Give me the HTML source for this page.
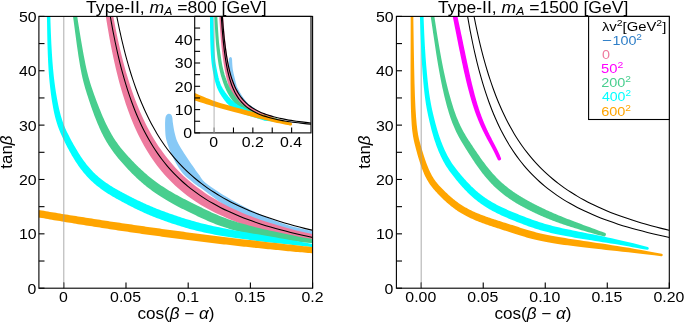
<!DOCTYPE html>
<html><head><meta charset="utf-8"><style>
html,body{margin:0;padding:0;background:#fff;}
svg{display:block;font-family:"Liberation Sans", sans-serif;will-change:transform;}
</style></head><body>
<svg xmlns="http://www.w3.org/2000/svg" width="685" height="323" viewBox="0 0 685 323" font-family='"Liberation Sans", sans-serif'><defs><clipPath id="cl"><rect x="38.9" y="16.4" width="273.7" height="271.8"/></clipPath>
<clipPath id="cr"><rect x="396.4" y="16.4" width="272.9" height="271.8"/></clipPath>
<clipPath id="ci"><rect x="194.7" y="16.4" width="116.3" height="116.5"/></clipPath></defs>
<g clip-path="url(#cl)">
<path d="M318 238.5C316.92 238.13 317.83 237.92 311.5 236.3C305.17 234.68 291.92 232.32 280 228.8C268.08 225.28 253.3 222.07 240 215.2C226.7 208.33 208.07 193.1 200.2 187.6C192.33 182.1 195.68 184.55 192.8 182.2C189.92 179.85 185.95 177.12 182.9 173.5C179.85 169.88 176.73 164.5 174.5 160.5C172.27 156.5 170.88 152.98 169.5 149.5C168.12 146.02 166.92 142.8 166.2 139.6C165.48 136.4 165.37 133.57 165.2 130.3C165.03 127.03 165.03 122.45 165.2 120C165.37 117.55 165.63 116.65 166.2 115.6C166.77 114.55 167.8 113.87 168.6 113.7C169.4 113.53 170.38 113.97 171 114.6C171.62 115.23 171.98 116.1 172.3 117.5C172.62 118.9 172.53 120.55 172.9 123C173.27 125.45 173.77 129.12 174.5 132.2C175.23 135.28 175.9 138.32 177.3 141.5C178.7 144.68 180.32 147.2 182.9 151.3C185.48 155.4 190.12 162.18 192.8 166.1C195.48 170.02 196.47 171.7 199 174.8C201.53 177.9 201.17 179.75 208 184.7C214.83 189.65 228 198.2 240 204.5C252 210.8 268.08 218.12 280 222.5C291.92 226.88 305.17 229.22 311.5 230.8C317.83 232.38 316.92 231.8 318 232Z" fill="#87C9F6" />
<path d="M107.33 -20.88C107.67 -18.51 108.71 -11.29 109.42 -6.66C110.14 -2.04 110.87 2.48 111.62 6.89C112.37 11.31 113.14 15.61 113.93 19.83C114.72 24.04 115.52 28.15 116.35 32.17C117.17 36.18 118.01 40.1 118.88 43.94C119.74 47.77 120.63 51.51 121.53 55.17C122.44 58.83 123.37 62.39 124.32 65.88C125.27 69.37 126.24 72.78 127.23 76.1C128.23 79.43 129.25 82.68 130.29 85.86C131.34 89.03 132.4 92.13 133.5 95.16C134.59 98.19 135.71 101.14 136.86 104.03C138.01 106.93 139.18 109.74 140.38 112.5C141.58 115.26 142.81 117.95 144.07 120.58C145.33 123.21 146.62 125.78 147.94 128.29C149.26 130.8 150.61 133.25 152 135.64C153.38 138.03 154.8 140.37 156.25 142.65C157.7 144.94 159.18 147.17 160.7 149.35C162.23 151.53 163.78 153.65 165.38 155.73C166.97 157.81 168.6 159.84 170.27 161.82C171.94 163.8 173.65 165.74 175.4 167.63C177.16 169.52 178.95 171.37 180.78 173.17C182.62 174.98 184.5 176.74 186.42 178.46C188.35 180.19 190.31 181.87 192.33 183.51C194.35 185.15 196.41 186.75 198.53 188.32C200.64 189.89 202.8 191.42 205.02 192.91C207.24 194.41 209.5 195.87 211.83 197.3C214.15 198.72 216.53 200.11 218.96 201.48C221.4 202.84 223.89 204.16 226.44 205.46C229 206.76 231.61 208.03 234.28 209.27C236.96 210.51 239.69 211.71 242.5 212.9C245.3 214.08 248.17 215.23 251.11 216.36C254.05 217.49 257.06 218.59 260.14 219.66C263.22 220.74 266.37 221.79 269.6 222.81C272.83 223.84 276.14 224.84 279.52 225.82C282.91 226.8 286.37 227.75 289.92 228.69C293.47 229.62 297.1 230.53 300.82 231.42C304.54 232.31 308.34 233.18 312.24 234.03C316.14 234.88 320.13 235.71 324.22 236.52C328.3 237.34 332.48 238.13 336.77 238.9C341.05 239.67 347.73 240.79 349.92 241.17L349.92 248.26C347.56 247.91 340.33 246.88 335.72 246.17C331.1 245.46 326.6 244.73 322.22 243.97C317.83 243.22 313.56 242.45 309.39 241.66C305.21 240.87 301.16 240.07 297.19 239.23C293.23 238.4 289.37 237.55 285.6 236.68C281.84 235.8 278.17 234.9 274.59 233.98C271.01 233.06 267.53 232.12 264.12 231.15C260.72 230.18 257.41 229.19 254.18 228.17C250.94 227.15 247.8 226.11 244.73 225.04C241.65 223.96 238.66 222.86 235.74 221.74C232.82 220.61 229.98 219.45 227.2 218.26C224.43 217.08 221.73 215.86 219.09 214.61C216.45 213.36 213.89 212.08 211.38 210.77C208.87 209.45 206.43 208.1 204.05 206.72C201.67 205.34 199.35 203.92 197.09 202.46C194.82 201.01 192.62 199.52 190.47 197.98C188.32 196.45 186.23 194.88 184.18 193.27C182.14 191.66 180.15 190.01 178.2 188.31C176.26 186.62 174.37 184.88 172.52 183.09C170.68 181.31 168.88 179.48 167.12 177.6C165.37 175.73 163.66 173.8 161.99 171.83C160.33 169.85 158.7 167.83 157.12 165.75C155.53 163.67 153.99 161.54 152.48 159.35C150.98 157.16 149.51 154.92 148.08 152.62C146.65 150.32 145.25 147.96 143.89 145.54C142.53 143.11 141.21 140.63 139.92 138.08C138.62 135.53 137.37 132.92 136.14 130.24C134.91 127.56 133.71 124.81 132.54 121.99C131.38 119.17 130.24 116.27 129.13 113.3C128.02 110.33 126.94 107.29 125.89 104.17C124.83 101.04 123.81 97.84 122.8 94.55C121.8 91.27 120.83 87.9 119.87 84.44C118.92 80.98 117.99 77.43 117.09 73.79C116.18 70.15 115.3 66.42 114.44 62.59C113.58 58.76 112.74 54.84 111.93 50.81C111.11 46.78 110.31 42.65 109.54 38.4C108.76 34.16 108 29.82 107.26 25.36C106.53 20.89 105.81 16.32 105.11 11.62C104.4 6.93 103.72 2.12 103.05 -2.82C102.39 -7.77 101.43 -15.49 101.1 -18.03Z" fill="#EE7A9E" />
<path d="M76.8 13.35 L77.67 19.28 L78.77 26.16 L79.83 32.69 L80.85 38.89 L81.85 44.75 L82.81 50.29 L83.76 55.49 L84.7 60.37 L85.62 64.92 L86.55 69.16 L87.48 73.07 L88.42 76.71 L89.37 80.09 L90.31 83.26 L91.27 86.25 L92.22 89.08 L93.17 91.8 L94.11 94.43 L95.04 96.99 L95.96 99.47 L96.87 101.89 L97.76 104.24 L98.64 106.51 L99.51 108.72 L100.37 110.87 L101.23 112.95 L102.07 114.97 L102.91 116.93 L103.75 118.83 L104.58 120.67 L105.41 122.46 L106.23 124.19 L107.05 125.87 L107.87 127.5 L108.69 129.08 L109.5 130.61 L110.32 132.1 L111.14 133.55 L111.96 134.96 L112.77 136.32 L113.59 137.65 L114.42 138.94 L115.24 140.2 L116.07 141.42 L116.9 142.62 L117.73 143.78 L118.56 144.92 L119.4 146.04 L120.25 147.13 L121.09 148.2 L121.95 149.26 L122.8 150.29 L123.66 151.31 L124.52 152.31 L125.39 153.3 L126.26 154.28 L127.14 155.25 L128.01 156.21 L128.89 157.17 L129.78 158.12 L130.66 159.06 L131.54 159.99 L132.42 160.92 L133.3 161.83 L134.19 162.74 L135.07 163.64 L135.95 164.53 L136.84 165.41 L137.73 166.29 L138.62 167.15 L139.51 168.01 L140.4 168.86 L141.3 169.71 L142.21 170.54 L143.11 171.37 L144.03 172.19 L144.94 173 L145.87 173.81 L146.8 174.61 L147.73 175.4 L148.67 176.18 L149.62 176.96 L150.58 177.74 L151.55 178.5 L152.52 179.26 L153.5 180.02 L154.5 180.77 L155.5 181.52 L156.51 182.26 L157.53 182.99 L158.57 183.73 L159.61 184.45 L160.67 185.18 L161.74 185.9 L162.82 186.62 L163.92 187.33 L165.03 188.05 L166.15 188.76 L167.29 189.47 L168.44 190.17 L169.61 190.88 L170.79 191.58 L171.99 192.29 L173.21 192.99 L174.44 193.69 L175.69 194.4 L176.96 195.1 L178.25 195.81 L179.55 196.52 L180.87 197.23 L182.21 197.94 L183.57 198.65 L184.95 199.37 L186.35 200.09 L187.77 200.82 L189.21 201.55 L190.67 202.28 L192.15 203.02 L193.65 203.76 L195.17 204.52 L196.72 205.27 L198.28 206.04 L199.87 206.81 L201.48 207.59 L203.11 208.38 L204.77 209.18 L206.44 209.98 L208.14 210.79 L209.85 211.6 L211.6 212.41 L213.39 213.22 L215.22 214.03 L217.1 214.84 L219.04 215.65 L221.04 216.46 L223.11 217.27 L225.25 218.08 L227.47 218.89 L229.78 219.7 L232.18 220.51 L234.68 221.32 L237.28 222.14 L240 222.96 L242.83 223.78 L245.78 224.61 L248.86 225.44 L252.08 226.28 L255.44 227.14 L258.95 228 L262.62 228.88 L266.46 229.77 L270.48 230.68 L274.68 231.61 L279.07 232.57 L283.66 233.55 L288.49 234.55 L293.6 235.58 L299.04 236.63 L304.86 237.7 L311.11 238.81 L319.04 239.88 L318.48 244.04 L318.48 244.04 L310.55 242.97 L304.21 242.39 L298.28 241.76 L292.72 241.11 L287.49 240.44 L282.56 239.75 L277.87 239.05 L273.4 238.35 L269.12 237.65 L265.01 236.95 L261.08 236.25 L257.31 235.54 L253.7 234.82 L250.24 234.1 L246.92 233.38 L243.73 232.65 L240.67 231.91 L237.72 231.16 L234.89 230.41 L232.17 229.66 L229.54 228.89 L227.01 228.12 L224.58 227.34 L222.23 226.55 L219.96 225.75 L217.77 224.95 L215.65 224.15 L213.6 223.34 L211.61 222.52 L209.68 221.71 L207.8 220.9 L205.97 220.09 L204.19 219.28 L202.45 218.48 L200.74 217.69 L199.06 216.91 L197.41 216.13 L195.78 215.36 L194.16 214.6 L192.57 213.84 L191 213.09 L189.45 212.33 L187.92 211.59 L186.41 210.84 L184.91 210.1 L183.44 209.37 L181.99 208.63 L180.55 207.89 L179.13 207.16 L177.73 206.43 L176.35 205.7 L174.99 204.96 L173.64 204.23 L172.31 203.5 L171 202.77 L169.7 202.03 L168.42 201.3 L167.15 200.56 L165.9 199.82 L164.67 199.07 L163.45 198.33 L162.24 197.58 L161.05 196.83 L159.87 196.07 L158.71 195.31 L157.56 194.55 L156.42 193.78 L155.3 193.01 L154.18 192.23 L153.08 191.45 L152 190.66 L150.92 189.87 L149.85 189.07 L148.8 188.27 L147.76 187.46 L146.72 186.64 L145.7 185.82 L144.68 184.99 L143.68 184.16 L142.68 183.32 L141.7 182.47 L140.72 181.62 L139.75 180.76 L138.79 179.89 L137.83 179.02 L136.88 178.14 L135.94 177.25 L135.01 176.35 L134.08 175.45 L133.15 174.54 L132.23 173.63 L131.32 172.7 L130.41 171.77 L129.51 170.84 L128.61 169.89 L127.71 168.94 L126.81 167.98 L125.92 167.01 L125.03 166.04 L124.14 165.06 L123.26 164.07 L122.37 163.07 L121.48 162.07 L120.59 161.05 L119.7 160.01 L118.81 158.96 L117.92 157.9 L117.03 156.81 L116.15 155.71 L115.26 154.58 L114.38 153.44 L113.5 152.26 L112.62 151.07 L111.75 149.85 L110.88 148.6 L110.02 147.32 L109.16 146.01 L108.31 144.67 L107.46 143.29 L106.62 141.88 L105.78 140.44 L104.95 138.96 L104.12 137.44 L103.3 135.88 L102.48 134.28 L101.66 132.63 L100.85 130.94 L100.04 129.21 L99.24 127.43 L98.43 125.6 L97.63 123.71 L96.83 121.78 L96.03 119.79 L95.23 117.75 L94.42 115.65 L93.61 113.49 L92.8 111.27 L91.99 108.99 L91.16 106.64 L90.34 104.23 L89.5 101.76 L88.65 99.21 L87.8 96.59 L86.93 93.89 L86.04 91.08 L85.16 88.13 L84.28 85.02 L83.41 81.71 L82.55 78.18 L81.71 74.4 L80.88 70.35 L80.08 66 L79.29 61.35 L78.51 56.38 L77.72 51.11 L76.92 45.52 L76.11 39.61 L75.28 33.37 L74.41 26.8 L73.5 19.89 L72.64 13.96Z" fill="#48CE8E" />
<path d="M50.33 15.64 L50.48 21.64 L50.91 33.56 L51.39 44.19 L51.92 53.66 L52.49 62.08 L53.12 69.58 L53.79 76.27 L54.51 82.27 L55.25 87.7 L56.01 92.69 L56.79 97.31 L57.57 101.58 L58.36 105.54 L59.17 109.18 L60 112.55 L60.84 115.66 L61.69 118.54 L62.56 121.2 L63.44 123.67 L64.34 125.98 L65.24 128.14 L66.16 130.19 L67.08 132.14 L68.02 134.02 L68.95 135.86 L69.89 137.66 L70.81 139.41 L71.73 141.13 L72.64 142.81 L73.54 144.44 L74.44 146.04 L75.33 147.6 L76.22 149.12 L77.11 150.6 L77.99 152.04 L78.86 153.45 L79.74 154.82 L80.61 156.16 L81.49 157.47 L82.36 158.74 L83.23 159.98 L84.11 161.18 L84.98 162.36 L85.86 163.51 L86.73 164.63 L87.61 165.72 L88.5 166.78 L89.38 167.81 L90.27 168.82 L91.17 169.81 L92.06 170.77 L92.97 171.71 L93.88 172.63 L94.79 173.52 L95.71 174.4 L96.64 175.25 L97.58 176.09 L98.52 176.91 L99.47 177.71 L100.43 178.5 L101.39 179.27 L102.37 180.03 L103.35 180.77 L104.35 181.5 L105.35 182.22 L106.36 182.93 L107.38 183.62 L108.42 184.31 L109.46 184.99 L110.51 185.66 L111.57 186.32 L112.65 186.98 L113.73 187.63 L114.82 188.27 L115.93 188.91 L117.04 189.54 L118.17 190.17 L119.3 190.8 L120.44 191.43 L121.6 192.05 L122.76 192.67 L123.93 193.29 L125.12 193.92 L126.31 194.54 L127.5 195.16 L128.71 195.79 L129.92 196.41 L131.14 197.03 L132.36 197.66 L133.6 198.28 L134.84 198.9 L136.1 199.52 L137.36 200.13 L138.64 200.75 L139.92 201.36 L141.22 201.98 L142.54 202.59 L143.86 203.2 L145.21 203.81 L146.56 204.41 L147.94 205.02 L149.33 205.62 L150.74 206.23 L152.17 206.83 L153.61 207.43 L155.08 208.03 L156.57 208.63 L158.08 209.22 L159.61 209.82 L161.17 210.42 L162.75 211.02 L164.35 211.62 L165.98 212.21 L167.64 212.81 L169.33 213.41 L171.04 214.01 L172.78 214.62 L174.55 215.22 L176.35 215.83 L178.18 216.44 L180.05 217.05 L181.94 217.66 L183.87 218.28 L185.83 218.89 L187.84 219.51 L189.89 220.12 L192 220.73 L194.15 221.34 L196.36 221.95 L198.62 222.55 L200.95 223.16 L203.35 223.76 L205.82 224.36 L208.36 224.96 L210.97 225.56 L213.67 226.16 L216.45 226.76 L219.32 227.37 L222.28 227.97 L225.34 228.58 L228.49 229.19 L231.74 229.8 L235.1 230.42 L238.57 231.05 L242.15 231.69 L245.85 232.34 L249.66 233 L253.6 233.68 L257.66 234.37 L261.85 235.09 L266.17 235.82 L270.63 236.58 L275.23 237.36 L279.97 238.18 L284.85 239.02 L289.88 239.9 L295.06 240.82 L300.39 241.79 L305.88 242.79 L311.53 243.85 L319.45 245.01 L318.99 248.11 L318.99 248.11 L311.08 246.95 L305.37 246.35 L299.82 245.76 L294.43 245.18 L289.21 244.61 L284.13 244.06 L279.21 243.52 L274.43 242.98 L269.79 242.45 L265.3 241.93 L260.93 241.41 L256.7 240.89 L252.6 240.38 L248.62 239.87 L244.76 239.35 L241.02 238.84 L237.39 238.33 L233.88 237.81 L230.46 237.3 L227.15 236.77 L223.94 236.25 L220.83 235.72 L217.81 235.18 L214.87 234.64 L212.03 234.09 L209.26 233.54 L206.57 232.98 L203.96 232.41 L201.42 231.84 L198.95 231.26 L196.55 230.68 L194.21 230.09 L191.93 229.49 L189.7 228.89 L187.54 228.29 L185.42 227.68 L183.35 227.07 L181.33 226.45 L179.35 225.84 L177.41 225.23 L175.5 224.61 L173.64 224 L171.8 223.39 L169.99 222.78 L168.21 222.17 L166.45 221.56 L164.73 220.95 L163.03 220.34 L161.36 219.72 L159.71 219.11 L158.09 218.49 L156.49 217.88 L154.91 217.26 L153.36 216.64 L151.82 216.02 L150.31 215.39 L148.82 214.77 L147.35 214.14 L145.9 213.51 L144.47 212.88 L143.06 212.24 L141.66 211.61 L140.28 210.97 L138.92 210.33 L137.57 209.69 L136.24 209.05 L134.92 208.4 L133.61 207.76 L132.32 207.11 L131.04 206.46 L129.77 205.81 L128.52 205.16 L127.27 204.52 L126.04 203.87 L124.81 203.22 L123.6 202.57 L122.39 201.92 L121.19 201.27 L120 200.62 L118.81 199.97 L117.62 199.31 L116.44 198.65 L115.27 197.99 L114.11 197.32 L112.95 196.65 L111.8 195.96 L110.65 195.28 L109.52 194.58 L108.39 193.88 L107.27 193.17 L106.15 192.45 L105.04 191.71 L103.94 190.97 L102.85 190.21 L101.77 189.44 L100.69 188.66 L99.63 187.87 L98.57 187.05 L97.52 186.23 L96.47 185.39 L95.44 184.53 L94.42 183.65 L93.4 182.75 L92.39 181.84 L91.39 180.9 L90.4 179.95 L89.41 178.97 L88.44 177.98 L87.47 176.96 L86.51 175.91 L85.56 174.85 L84.62 173.76 L83.68 172.64 L82.75 171.5 L81.83 170.34 L80.91 169.15 L80 167.93 L79.09 166.68 L78.19 165.41 L77.3 164.1 L76.41 162.77 L75.52 161.4 L74.63 160.01 L73.75 158.58 L72.87 157.12 L71.99 155.63 L71.12 154.1 L70.24 152.54 L69.36 150.95 L68.48 149.32 L67.6 147.65 L66.72 145.95 L65.83 144.2 L64.94 142.42 L64.05 140.6 L63.15 138.74 L62.23 136.83 L61.31 134.83 L60.39 132.74 L59.48 130.54 L58.58 128.2 L57.69 125.72 L56.83 123.06 L55.99 120.22 L55.17 117.18 L54.39 113.91 L53.63 110.39 L52.91 106.61 L52.2 102.54 L51.53 98.15 L50.87 93.44 L50.24 88.36 L49.64 82.82 L49.08 76.72 L48.57 69.94 L48.14 62.36 L47.77 53.86 L47.46 44.34 L47.22 33.67 L47.03 21.73 L46.87 15.73Z" fill="#00FFFF" />
<path d="M30 208.59C30.67 208.71 32.67 209.04 34 209.27C35.33 209.49 36.67 209.72 38 209.94C39.33 210.16 40.67 210.39 42 210.61C43.33 210.83 44.67 211.05 46 211.27C47.33 211.49 48.67 211.71 50 211.93C51.33 212.15 52.67 212.37 54 212.59C55.33 212.81 56.67 213.03 58 213.24C59.33 213.46 60.67 213.68 62 213.89C63.33 214.11 64.67 214.32 66 214.54C67.33 214.75 68.67 214.96 70 215.18C71.33 215.39 72.67 215.6 74 215.81C75.33 216.03 76.67 216.24 78 216.45C79.33 216.66 80.67 216.87 82 217.08C83.33 217.29 84.67 217.5 86 217.7C87.33 217.91 88.67 218.12 90 218.33C91.33 218.53 92.67 218.74 94 218.95C95.33 219.15 96.67 219.36 98 219.56C99.33 219.76 100.67 219.97 102 220.17C103.33 220.37 104.67 220.58 106 220.78C107.33 220.98 108.67 221.18 110 221.38C111.33 221.58 112.67 221.78 114 221.98C115.33 222.18 116.67 222.38 118 222.58C119.33 222.78 120.67 222.97 122 223.17C123.33 223.37 124.67 223.56 126 223.76C127.33 223.95 128.67 224.15 130 224.34C131.33 224.54 132.67 224.73 134 224.92C135.33 225.12 136.67 225.31 138 225.5C139.33 225.69 140.67 225.88 142 226.07C143.33 226.26 144.67 226.45 146 226.64C147.33 226.83 148.67 227.02 150 227.21C151.33 227.4 152.67 227.58 154 227.77C155.33 227.96 156.67 228.14 158 228.33C159.33 228.51 160.67 228.7 162 228.88C163.33 229.07 164.67 229.25 166 229.43C167.33 229.62 168.67 229.8 170 229.98C171.33 230.16 172.67 230.34 174 230.52C175.33 230.7 176.67 230.88 178 231.06C179.33 231.24 180.67 231.42 182 231.6C183.33 231.78 184.67 231.95 186 232.13C187.33 232.31 188.67 232.48 190 232.66C191.33 232.83 192.67 233.01 194 233.18C195.33 233.35 196.67 233.53 198 233.7C199.33 233.87 200.67 234.05 202 234.22C203.33 234.39 204.67 234.56 206 234.73C207.33 234.9 208.67 235.07 210 235.24C211.33 235.41 212.67 235.58 214 235.74C215.33 235.91 216.67 236.08 218 236.24C219.33 236.41 220.67 236.58 222 236.74C223.33 236.91 224.67 237.07 226 237.24C227.33 237.4 228.67 237.56 230 237.73C231.33 237.89 232.67 238.05 234 238.21C235.33 238.37 236.67 238.53 238 238.69C239.33 238.85 240.67 239.01 242 239.17C243.33 239.33 244.67 239.49 246 239.65C247.33 239.81 248.67 239.96 250 240.12C251.33 240.28 252.67 240.43 254 240.59C255.33 240.74 256.67 240.9 258 241.05C259.33 241.2 260.67 241.36 262 241.51C263.33 241.66 264.67 241.81 266 241.97C267.33 242.12 268.67 242.27 270 242.42C271.33 242.57 272.67 242.72 274 242.87C275.33 243.01 276.67 243.16 278 243.31C279.33 243.46 280.67 243.6 282 243.75C283.33 243.9 284.67 244.04 286 244.19C287.33 244.33 288.67 244.48 290 244.62C291.33 244.76 292.67 244.91 294 245.05C295.33 245.19 296.67 245.33 298 245.48C299.33 245.62 300.67 245.76 302 245.9C303.33 246.04 304.67 246.18 306 246.32C307.33 246.45 308.67 246.59 310 246.73C311.33 246.87 312.67 247 314 247.14C315.33 247.28 316.67 247.41 318 247.55C319.33 247.68 320.67 247.82 322 247.95C323.33 248.08 325.33 248.28 326 248.35L326 254.4C325.33 254.34 323.33 254.18 322 254.07C320.67 253.96 319.33 253.85 318 253.74C316.67 253.63 315.33 253.51 314 253.4C312.67 253.29 311.33 253.17 310 253.05C308.67 252.94 307.33 252.82 306 252.71C304.67 252.59 303.33 252.47 302 252.35C300.67 252.23 299.33 252.11 298 251.99C296.67 251.87 295.33 251.75 294 251.63C292.67 251.5 291.33 251.38 290 251.26C288.67 251.13 287.33 251.01 286 250.88C284.67 250.75 283.33 250.63 282 250.5C280.67 250.37 279.33 250.24 278 250.11C276.67 249.98 275.33 249.85 274 249.72C272.67 249.59 271.33 249.46 270 249.33C268.67 249.19 267.33 249.06 266 248.93C264.67 248.79 263.33 248.66 262 248.52C260.67 248.38 259.33 248.24 258 248.11C256.67 247.97 255.33 247.83 254 247.69C252.67 247.55 251.33 247.41 250 247.27C248.67 247.13 247.33 246.98 246 246.84C244.67 246.7 243.33 246.55 242 246.41C240.67 246.26 239.33 246.11 238 245.97C236.67 245.82 235.33 245.67 234 245.52C232.67 245.38 231.33 245.23 230 245.08C228.67 244.93 227.33 244.77 226 244.62C224.67 244.47 223.33 244.32 222 244.16C220.67 244.01 219.33 243.85 218 243.7C216.67 243.54 215.33 243.39 214 243.23C212.67 243.07 211.33 242.91 210 242.75C208.67 242.59 207.33 242.43 206 242.27C204.67 242.11 203.33 241.95 202 241.79C200.67 241.63 199.33 241.46 198 241.3C196.67 241.13 195.33 240.97 194 240.8C192.67 240.64 191.33 240.47 190 240.3C188.67 240.13 187.33 239.96 186 239.8C184.67 239.63 183.33 239.46 182 239.28C180.67 239.11 179.33 238.94 178 238.77C176.67 238.59 175.33 238.42 174 238.25C172.67 238.07 171.33 237.89 170 237.72C168.67 237.54 167.33 237.36 166 237.19C164.67 237.01 163.33 236.83 162 236.65C160.67 236.47 159.33 236.29 158 236.11C156.67 235.92 155.33 235.74 154 235.56C152.67 235.37 151.33 235.19 150 235C148.67 234.82 147.33 234.63 146 234.45C144.67 234.26 143.33 234.07 142 233.88C140.67 233.69 139.33 233.5 138 233.31C136.67 233.12 135.33 232.93 134 232.74C132.67 232.55 131.33 232.35 130 232.16C128.67 231.97 127.33 231.77 126 231.57C124.67 231.38 123.33 231.18 122 230.98C120.67 230.79 119.33 230.59 118 230.39C116.67 230.19 115.33 229.99 114 229.79C112.67 229.59 111.33 229.39 110 229.18C108.67 228.98 107.33 228.78 106 228.57C104.67 228.37 103.33 228.16 102 227.96C100.67 227.75 99.33 227.54 98 227.34C96.67 227.13 95.33 226.92 94 226.71C92.67 226.5 91.33 226.29 90 226.08C88.67 225.87 87.33 225.65 86 225.44C84.67 225.23 83.33 225.01 82 224.8C80.67 224.58 79.33 224.37 78 224.15C76.67 223.93 75.33 223.72 74 223.5C72.67 223.28 71.33 223.06 70 222.84C68.67 222.62 67.33 222.4 66 222.18C64.67 221.95 63.33 221.73 62 221.51C60.67 221.28 59.33 221.06 58 220.83C56.67 220.61 55.33 220.38 54 220.16C52.67 219.93 51.33 219.7 50 219.47C48.67 219.24 47.33 219.01 46 218.78C44.67 218.55 43.33 218.32 42 218.09C40.67 217.86 39.33 217.62 38 217.39C36.67 217.15 35.33 216.92 34 216.68C32.67 216.45 30.67 216.09 30 215.97Z" fill="#FFA500" />
<line x1="63.78" y1="16.4" x2="63.78" y2="288.2" stroke="#9a9a9a" stroke-width="1.1" opacity="0.75"/>
<path d="M108.52 5.53C108.88 7.66 109.92 14.17 110.65 18.34C111.37 22.52 112.11 26.59 112.87 30.57C113.63 34.56 114.41 38.45 115.2 42.25C116 46.06 116.81 49.77 117.64 53.4C118.48 57.03 119.33 60.58 120.2 64.05C121.07 67.51 121.97 70.9 122.88 74.21C123.79 77.52 124.73 80.75 125.69 83.91C126.64 87.07 127.62 90.15 128.63 93.17C129.63 96.19 130.65 99.13 131.7 102.01C132.76 104.89 133.83 107.7 134.93 110.45C136.03 113.2 137.16 115.88 138.31 118.51C139.46 121.13 140.64 123.69 141.85 126.2C143.05 128.71 144.29 131.15 145.55 133.54C146.82 135.94 148.11 138.27 149.44 140.55C150.76 142.84 152.12 145.07 153.5 147.25C154.89 149.43 156.31 151.56 157.76 153.64C159.22 155.72 160.7 157.75 162.23 159.74C163.75 161.72 165.31 163.66 166.9 165.56C168.5 167.46 170.13 169.31 171.8 171.12C173.47 172.93 175.18 174.7 176.93 176.43C178.68 178.16 180.47 179.84 182.3 181.49C184.13 183.14 186.01 184.75 187.93 186.33C189.85 187.91 191.81 189.44 193.82 190.95C195.83 192.45 197.89 193.92 200 195.36C202.1 196.79 204.26 198.19 206.46 199.57C208.67 200.94 210.93 202.27 213.24 203.58C215.55 204.89 217.91 206.17 220.34 207.42C222.76 208.67 225.23 209.89 227.77 211.08C230.31 212.27 232.9 213.44 235.56 214.58C238.21 215.72 240.93 216.83 243.71 217.91C246.5 219 249.34 220.06 252.26 221.1C255.17 222.14 258.15 223.15 261.21 224.14C264.26 225.13 267.38 226.1 270.58 227.05C273.78 227.99 277.05 228.92 280.4 229.82C283.75 230.72 287.18 231.6 290.69 232.46C294.2 233.33 297.78 234.17 301.46 234.99C305.14 235.81 308.9 236.62 312.75 237.4C316.6 238.19 320.53 238.96 324.57 239.71C328.6 240.46 332.73 241.19 336.95 241.9C341.18 242.62 347.76 243.65 349.92 244" fill="none" stroke="#000" stroke-width="1.05"/>
<path d="M114.74 5.53C115.12 7.52 116.22 13.57 116.99 17.46C117.75 21.36 118.53 25.16 119.33 28.89C120.13 32.62 120.95 36.27 121.78 39.84C122.62 43.41 123.47 46.9 124.34 50.33C125.21 53.75 126.1 57.09 127.01 60.37C127.92 63.65 128.85 66.85 129.8 69.99C130.74 73.13 131.71 76.19 132.7 79.2C133.7 82.21 134.71 85.14 135.74 88.02C136.78 90.9 137.83 93.72 138.92 96.48C140 99.23 141.1 101.93 142.23 104.57C143.36 107.21 144.51 109.79 145.68 112.32C146.86 114.85 148.07 117.32 149.3 119.75C150.53 122.17 151.78 124.54 153.06 126.86C154.35 129.18 155.66 131.45 157 133.67C158.34 135.89 159.71 138.07 161.11 140.2C162.51 142.32 163.94 144.4 165.4 146.44C166.86 148.48 168.35 150.48 169.88 152.43C171.4 154.38 172.96 156.29 174.56 158.16C176.15 160.03 177.77 161.86 179.44 163.65C181.1 165.44 182.8 167.19 184.54 168.91C186.27 170.62 188.05 172.3 189.86 173.95C191.67 175.59 193.52 177.2 195.42 178.77C197.31 180.34 199.24 181.88 201.22 183.39C203.2 184.9 205.21 186.37 207.28 187.81C209.34 189.26 211.45 190.67 213.6 192.05C215.76 193.44 217.96 194.79 220.21 196.11C222.46 197.44 224.75 198.73 227.1 200C229.45 201.27 231.85 202.51 234.3 203.72C236.75 204.94 239.26 206.13 241.82 207.29C244.38 208.45 246.99 209.59 249.67 210.71C252.34 211.82 255.07 212.91 257.86 213.98C260.65 215.05 263.5 216.09 266.41 217.11C269.33 218.13 272.3 219.13 275.35 220.11C278.39 221.09 281.5 222.05 284.67 222.99C287.85 223.93 291.09 224.84 294.41 225.74C297.73 226.64 301.11 227.52 304.58 228.38C308.04 229.24 311.57 230.08 315.19 230.9C318.81 231.73 322.5 232.53 326.27 233.32C330.05 234.11 333.9 234.88 337.84 235.64C341.78 236.39 347.91 237.49 349.92 237.86" fill="none" stroke="#000" stroke-width="1.05"/>
</g>
<g clip-path="url(#cr)">
<path d="M413.33 15.07 L413.37 21.07 L413.76 46.03 L414.14 66.71 L414.54 83.65 L414.99 97.36 L415.5 108.39 L416.08 117.26 L416.71 124.46 L417.4 130.25 L418.15 134.91 L418.94 138.72 L419.77 141.95 L420.6 144.91 L421.42 147.74 L422.22 150.43 L423 152.99 L423.77 155.43 L424.52 157.73 L425.25 159.92 L425.98 161.99 L426.7 163.95 L427.41 165.81 L428.11 167.56 L428.81 169.21 L429.51 170.77 L430.2 172.24 L430.9 173.62 L431.59 174.93 L432.28 176.17 L432.97 177.34 L433.66 178.44 L434.35 179.49 L435.05 180.49 L435.75 181.44 L436.45 182.35 L437.16 183.23 L437.88 184.07 L438.59 184.89 L439.32 185.69 L440.05 186.47 L440.79 187.24 L441.53 188.01 L442.28 188.77 L443.02 189.52 L443.76 190.26 L444.49 190.98 L445.22 191.7 L445.95 192.41 L446.68 193.11 L447.41 193.79 L448.13 194.47 L448.86 195.13 L449.58 195.79 L450.31 196.44 L451.03 197.07 L451.76 197.7 L452.48 198.31 L453.21 198.92 L453.94 199.51 L454.67 200.1 L455.41 200.67 L456.15 201.24 L456.89 201.8 L457.64 202.35 L458.39 202.89 L459.14 203.42 L459.91 203.95 L460.67 204.46 L461.45 204.97 L462.23 205.47 L463.01 205.97 L463.81 206.45 L464.61 206.93 L465.42 207.4 L466.25 207.87 L467.08 208.33 L467.92 208.78 L468.77 209.23 L469.63 209.67 L470.5 210.11 L471.39 210.55 L472.28 210.97 L473.19 211.4 L474.11 211.82 L475.05 212.23 L476 212.65 L476.96 213.06 L477.94 213.46 L478.93 213.87 L479.94 214.27 L480.96 214.67 L482 215.07 L483.05 215.47 L484.12 215.86 L485.21 216.26 L486.31 216.65 L487.43 217.05 L488.57 217.45 L489.73 217.84 L490.91 218.24 L492.1 218.64 L493.31 219.04 L494.54 219.45 L495.79 219.85 L497.06 220.26 L498.35 220.68 L499.66 221.1 L500.99 221.52 L502.34 221.95 L503.71 222.38 L505.1 222.82 L506.51 223.27 L507.94 223.72 L509.39 224.18 L510.87 224.65 L512.36 225.12 L513.88 225.61 L515.41 226.1 L516.97 226.61 L518.55 227.12 L520.15 227.64 L521.77 228.17 L523.41 228.69 L525.1 229.22 L526.82 229.75 L528.59 230.29 L530.42 230.82 L532.31 231.34 L534.26 231.87 L536.29 232.39 L538.39 232.92 L540.58 233.43 L542.87 233.95 L545.25 234.47 L547.74 234.98 L550.34 235.5 L553.06 236.01 L555.9 236.53 L558.87 237.05 L561.98 237.57 L565.23 238.11 L568.63 238.65 L572.18 239.2 L575.89 239.76 L579.77 240.34 L583.82 240.94 L588.04 241.57 L592.45 242.21 L597.05 242.89 L601.84 243.61 L606.84 244.36 L612.04 245.16 L617.45 246 L623.07 246.9 L628.92 247.85 L635 248.88 L641.3 249.97 L647.85 251.14 L654.63 252.39 L661.66 253.74 A1.23 1.23 0 0 1 661.28 256.17 L661.28 256.17 L654.18 255.31 L647.34 254.51 L640.75 253.74 L634.41 253.02 L628.3 252.33 L622.42 251.68 L616.77 251.05 L611.34 250.46 L606.11 249.88 L601.1 249.33 L596.28 248.79 L591.66 248.28 L587.23 247.77 L582.98 247.28 L578.9 246.79 L574.99 246.31 L571.24 245.84 L567.65 245.37 L564.21 244.9 L560.91 244.43 L557.75 243.96 L554.72 243.49 L551.82 243.01 L549.04 242.53 L546.37 242.04 L543.8 241.55 L541.34 241.05 L538.98 240.54 L536.71 240.03 L534.52 239.51 L532.42 238.98 L530.38 238.46 L528.42 237.92 L526.53 237.39 L524.69 236.85 L522.91 236.31 L521.18 235.78 L519.5 235.25 L517.86 234.72 L516.25 234.2 L514.68 233.7 L513.13 233.2 L511.6 232.71 L510.09 232.23 L508.61 231.76 L507.14 231.29 L505.69 230.83 L504.26 230.38 L502.85 229.93 L501.45 229.49 L500.08 229.05 L498.72 228.62 L497.39 228.19 L496.07 227.76 L494.77 227.34 L493.48 226.92 L492.22 226.5 L490.97 226.08 L489.74 225.67 L488.52 225.25 L487.32 224.84 L486.14 224.42 L484.97 224.01 L483.82 223.59 L482.68 223.18 L481.56 222.76 L480.45 222.34 L479.36 221.92 L478.28 221.49 L477.21 221.06 L476.16 220.63 L475.12 220.2 L474.1 219.76 L473.09 219.32 L472.09 218.87 L471.1 218.42 L470.12 217.96 L469.16 217.5 L468.2 217.03 L467.26 216.55 L466.33 216.07 L465.41 215.59 L464.5 215.09 L463.6 214.59 L462.71 214.08 L461.83 213.57 L460.95 213.04 L460.09 212.51 L459.24 211.98 L458.39 211.43 L457.55 210.88 L456.72 210.31 L455.9 209.74 L455.08 209.16 L454.27 208.58 L453.47 207.98 L452.67 207.37 L451.88 206.76 L451.1 206.14 L450.32 205.51 L449.54 204.87 L448.77 204.22 L448.01 203.56 L447.24 202.89 L446.48 202.22 L445.73 201.53 L444.97 200.84 L444.22 200.13 L443.47 199.42 L442.72 198.7 L441.98 197.97 L441.23 197.23 L440.48 196.48 L439.74 195.72 L438.99 194.95 L438.24 194.17 L437.49 193.39 L436.74 192.59 L435.98 191.78 L435.22 190.95 L434.45 190.09 L433.67 189.2 L432.89 188.28 L432.11 187.32 L431.33 186.32 L430.56 185.27 L429.79 184.18 L429.02 183.03 L428.26 181.83 L427.51 180.57 L426.77 179.25 L426.03 177.87 L425.3 176.41 L424.58 174.88 L423.87 173.28 L423.16 171.59 L422.45 169.82 L421.75 167.95 L421.05 166 L420.35 163.94 L419.64 161.78 L418.93 159.51 L418.22 157.13 L417.5 154.63 L416.77 152 L416.02 149.25 L415.26 146.37 L414.47 143.3 L413.69 139.85 L412.95 135.79 L412.28 130.89 L411.72 124.9 L411.26 117.57 L410.9 108.58 L410.66 97.47 L410.55 83.71 L410.55 66.75 L410.62 46.06 L410.68 21.09 L410.64 15.09Z" fill="#FFA500" />
<line x1="421.21" y1="16.4" x2="421.21" y2="288.2" stroke="#9a9a9a" stroke-width="1.1" opacity="0.75"/>
<path d="M457.06 14.32 L458.27 20.2 L458.65 21.97 L459.02 23.73 L459.4 25.47 L459.76 27.19 L460.12 28.89 L460.48 30.57 L460.83 32.24 L461.17 33.88 L461.52 35.51 L461.85 37.12 L462.19 38.72 L462.52 40.29 L462.84 41.85 L463.16 43.39 L463.48 44.92 L463.8 46.43 L464.11 47.92 L464.41 49.39 L464.72 50.85 L465.02 52.29 L465.32 53.72 L465.61 55.13 L465.91 56.52 L466.2 57.9 L466.48 59.26 L466.77 60.61 L467.05 61.94 L467.33 63.25 L467.61 64.55 L467.89 65.84 L468.16 67.11 L468.44 68.36 L468.71 69.61 L468.98 70.83 L469.24 72.05 L469.51 73.24 L469.78 74.43 L470.04 75.6 L470.3 76.75 L470.56 77.9 L470.82 79.03 L471.08 80.14 L471.34 81.25 L471.6 82.34 L471.85 83.41 L472.11 84.48 L472.37 85.53 L472.62 86.57 L472.87 87.6 L473.13 88.61 L473.38 89.61 L473.63 90.61 L473.88 91.59 L474.14 92.55 L474.39 93.51 L474.64 94.45 L474.89 95.39 L475.14 96.31 L475.39 97.22 L475.64 98.12 L475.89 99.01 L476.14 99.89 L476.39 100.76 L476.65 101.62 L476.9 102.47 L477.15 103.31 L477.4 104.14 L477.65 104.96 L477.9 105.78 L478.16 106.58 L478.41 107.37 L478.66 108.15 L478.91 108.93 L479.17 109.7 L479.42 110.45 L479.68 111.2 L479.93 111.94 L480.19 112.68 L480.44 113.4 L480.7 114.12 L480.95 114.83 L481.21 115.53 L481.47 116.23 L481.73 116.92 L481.99 117.6 L482.24 118.27 L482.5 118.94 L482.76 119.6 L483.02 120.25 L483.28 120.9 L483.55 121.54 L483.81 122.18 L484.07 122.81 L484.33 123.43 L484.6 124.05 L484.86 124.66 L485.12 125.27 L485.39 125.87 L485.65 126.47 L485.92 127.06 L486.18 127.65 L486.45 128.23 L486.72 128.81 L486.98 129.38 L487.25 129.95 L487.52 130.52 L487.79 131.08 L488.05 131.64 L488.32 132.19 L488.59 132.74 L488.86 133.29 L489.13 133.84 L489.39 134.38 L489.66 134.91 L489.93 135.45 L490.2 135.98 L490.47 136.51 L490.74 137.04 L491 137.56 L491.27 138.09 L491.54 138.61 L491.81 139.13 L492.07 139.64 L492.34 140.16 L492.61 140.67 L492.87 141.18 L493.14 141.69 L493.4 142.2 L493.67 142.71 L493.93 143.22 L494.19 143.72 L494.46 144.23 L494.72 144.73 L494.98 145.24 L495.23 145.74 L495.49 146.25 L495.75 146.75 L496 147.25 L496.26 147.76 L496.51 148.26 L496.76 148.76 L497.01 149.27 L497.26 149.77 L497.51 150.27 L497.75 150.78 L497.99 151.29 L498.23 151.79 L498.47 152.3 L498.71 152.81 L498.94 153.32 L499.18 153.83 L499.41 154.34 L499.63 154.86 L499.86 155.37 L500.08 155.89 L500.3 156.41 L500.51 156.93 L500.73 157.45 L500.94 157.97 A1.84 1.84 0 0 1 497.53 159.37 L497.53 159.37 L497.32 158.87 L497.11 158.37 L496.89 157.87 L496.67 157.38 L496.45 156.88 L496.22 156.39 L495.99 155.9 L495.76 155.41 L495.53 154.92 L495.29 154.43 L495.05 153.94 L494.81 153.45 L494.57 152.96 L494.32 152.47 L494.07 151.98 L493.82 151.49 L493.57 151 L493.32 150.51 L493.06 150.02 L492.81 149.53 L492.55 149.04 L492.29 148.55 L492.02 148.06 L491.76 147.57 L491.49 147.07 L491.23 146.58 L490.96 146.08 L490.69 145.58 L490.42 145.08 L490.15 144.58 L489.87 144.08 L489.6 143.57 L489.32 143.07 L489.05 142.56 L488.77 142.05 L488.49 141.54 L488.22 141.02 L487.94 140.5 L487.66 139.98 L487.38 139.46 L487.1 138.94 L486.82 138.41 L486.53 137.88 L486.25 137.34 L485.97 136.8 L485.69 136.26 L485.41 135.72 L485.12 135.17 L484.84 134.62 L484.56 134.06 L484.27 133.5 L483.99 132.94 L483.71 132.37 L483.42 131.79 L483.14 131.22 L482.86 130.63 L482.58 130.05 L482.29 129.46 L482.01 128.86 L481.73 128.26 L481.45 127.65 L481.17 127.04 L480.89 126.42 L480.6 125.8 L480.32 125.17 L480.04 124.53 L479.76 123.89 L479.49 123.24 L479.21 122.59 L478.93 121.93 L478.65 121.26 L478.37 120.59 L478.1 119.91 L477.82 119.23 L477.54 118.53 L477.27 117.83 L476.99 117.12 L476.72 116.41 L476.45 115.68 L476.17 114.95 L475.9 114.22 L475.63 113.47 L475.36 112.71 L475.08 111.95 L474.81 111.18 L474.54 110.4 L474.27 109.61 L474 108.82 L473.73 108.01 L473.47 107.2 L473.2 106.37 L472.93 105.54 L472.66 104.7 L472.4 103.84 L472.13 102.98 L471.86 102.11 L471.6 101.23 L471.33 100.34 L471.06 99.44 L470.8 98.52 L470.53 97.6 L470.27 96.67 L470 95.72 L469.74 94.77 L469.47 93.8 L469.21 92.82 L468.94 91.83 L468.67 90.83 L468.41 89.82 L468.14 88.8 L467.88 87.76 L467.61 86.71 L467.34 85.65 L467.08 84.58 L466.81 83.49 L466.54 82.39 L466.27 81.28 L466 80.16 L465.73 79.02 L465.46 77.87 L465.19 76.71 L464.92 75.53 L464.65 74.34 L464.37 73.14 L464.1 71.92 L463.82 70.69 L463.55 69.44 L463.27 68.18 L462.99 66.9 L462.71 65.61 L462.42 64.31 L462.14 62.98 L461.86 61.65 L461.57 60.3 L461.28 58.93 L460.99 57.55 L460.7 56.15 L460.41 54.74 L460.11 53.31 L459.81 51.87 L459.51 50.4 L459.21 48.93 L458.91 47.43 L458.6 45.92 L458.29 44.39 L457.98 42.85 L457.67 41.28 L457.35 39.7 L457.03 38.11 L456.71 36.49 L456.39 34.86 L456.06 33.21 L455.73 31.54 L455.4 29.85 L455.06 28.15 L454.72 26.43 L454.38 24.69 L454.03 22.92 L453.68 21.15 L452.47 15.27Z" fill="#FF00FF" />
<path d="M434.08 14.68 L434.98 20.61 L435.98 27.04 L436.95 33.15 L437.9 38.96 L438.83 44.48 L439.74 49.73 L440.63 54.71 L441.5 59.43 L442.36 63.92 L443.21 68.17 L444.05 72.22 L444.87 76.06 L445.69 79.71 L446.51 83.18 L447.31 86.5 L448.11 89.66 L448.91 92.68 L449.69 95.58 L450.47 98.36 L451.25 101.03 L452.01 103.59 L452.78 106.04 L453.54 108.4 L454.3 110.65 L455.06 112.82 L455.81 114.89 L456.57 116.88 L457.33 118.79 L458.09 120.62 L458.85 122.38 L459.61 124.07 L460.37 125.7 L461.14 127.27 L461.9 128.78 L462.67 130.24 L463.45 131.66 L464.22 133.03 L465 134.37 L465.78 135.67 L466.56 136.94 L467.34 138.19 L468.12 139.42 L468.91 140.63 L469.69 141.83 L470.47 143.02 L471.25 144.2 L472.02 145.36 L472.79 146.52 L473.55 147.66 L474.3 148.79 L475.06 149.91 L475.8 151.02 L476.54 152.11 L477.28 153.19 L478.02 154.26 L478.75 155.32 L479.48 156.36 L480.2 157.39 L480.92 158.41 L481.65 159.42 L482.37 160.41 L483.08 161.4 L483.8 162.37 L484.52 163.33 L485.23 164.28 L485.95 165.21 L486.67 166.14 L487.38 167.05 L488.1 167.95 L488.82 168.84 L489.54 169.72 L490.27 170.59 L490.99 171.45 L491.72 172.29 L492.45 173.13 L493.18 173.95 L493.92 174.77 L494.66 175.57 L495.41 176.37 L496.16 177.16 L496.91 177.93 L497.67 178.7 L498.44 179.46 L499.21 180.21 L499.99 180.95 L500.77 181.69 L501.56 182.41 L502.36 183.13 L503.17 183.84 L503.98 184.55 L504.81 185.24 L505.64 185.93 L506.48 186.62 L507.33 187.29 L508.19 187.97 L509.06 188.63 L509.94 189.29 L510.83 189.95 L511.73 190.6 L512.65 191.25 L513.57 191.89 L514.51 192.53 L515.46 193.17 L516.42 193.8 L517.4 194.43 L518.39 195.06 L519.39 195.69 L520.4 196.31 L521.43 196.93 L522.48 197.55 L523.54 198.17 L524.61 198.79 L525.7 199.41 L526.8 200.03 L527.92 200.65 L529.06 201.27 L530.21 201.89 L531.38 202.51 L532.56 203.14 L533.76 203.76 L534.98 204.39 L536.21 205.02 L537.46 205.65 L538.72 206.29 L540.01 206.93 L541.31 207.56 L542.63 208.2 L543.98 208.85 L545.34 209.49 L546.73 210.14 L548.15 210.79 L549.59 211.44 L551.05 212.1 L552.55 212.75 L554.07 213.42 L555.63 214.08 L557.21 214.76 L558.83 215.43 L560.48 216.11 L562.16 216.8 L563.89 217.49 L565.64 218.19 L567.44 218.9 L569.27 219.62 L571.14 220.34 L573.06 221.07 L575.01 221.82 L577.01 222.57 L579.05 223.34 L581.13 224.11 L583.26 224.9 L585.44 225.71 L587.67 226.53 L589.94 227.36 L592.26 228.21 L594.63 229.08 L597.05 229.97 L599.53 230.88 L602.05 231.81 L604.63 232.76 A1.85 1.85 0 0 1 603.51 236.3 L603.51 236.3 L600.85 235.59 L598.25 234.88 L595.7 234.19 L593.21 233.5 L590.77 232.82 L588.38 232.15 L586.04 231.49 L583.76 230.82 L581.52 230.17 L579.32 229.52 L577.18 228.87 L575.07 228.23 L573.02 227.59 L571 226.95 L569.03 226.32 L567.09 225.69 L565.2 225.06 L563.34 224.43 L561.53 223.8 L559.75 223.18 L558 222.55 L556.29 221.93 L554.61 221.31 L552.96 220.68 L551.35 220.06 L549.76 219.44 L548.21 218.82 L546.68 218.19 L545.18 217.57 L543.71 216.95 L542.26 216.32 L540.84 215.7 L539.44 215.07 L538.06 214.45 L536.71 213.82 L535.37 213.2 L534.06 212.58 L532.77 211.95 L531.49 211.33 L530.23 210.71 L528.99 210.09 L527.76 209.47 L526.55 208.84 L525.35 208.22 L524.17 207.59 L523 206.96 L521.84 206.33 L520.7 205.7 L519.58 205.06 L518.46 204.43 L517.36 203.78 L516.28 203.14 L515.21 202.49 L514.15 201.83 L513.1 201.17 L512.06 200.51 L511.04 199.84 L510.03 199.17 L509.03 198.49 L508.05 197.8 L507.07 197.11 L506.11 196.42 L505.16 195.71 L504.22 195 L503.28 194.28 L502.36 193.56 L501.45 192.83 L500.55 192.09 L499.66 191.34 L498.78 190.59 L497.91 189.82 L497.05 189.05 L496.2 188.27 L495.35 187.48 L494.52 186.69 L493.69 185.88 L492.87 185.07 L492.06 184.25 L491.25 183.42 L490.46 182.58 L489.67 181.73 L488.88 180.87 L488.1 180 L487.33 179.12 L486.57 178.23 L485.81 177.34 L485.05 176.43 L484.3 175.51 L483.55 174.58 L482.81 173.65 L482.07 172.7 L481.34 171.74 L480.61 170.77 L479.88 169.8 L479.15 168.81 L478.43 167.81 L477.7 166.8 L476.98 165.78 L476.26 164.75 L475.54 163.71 L474.82 162.65 L474.11 161.59 L473.39 160.52 L472.67 159.43 L471.95 158.34 L471.23 157.23 L470.5 156.11 L469.78 154.98 L469.05 153.84 L468.32 152.69 L467.58 151.53 L466.85 150.35 L466.11 149.17 L465.36 147.97 L464.61 146.77 L463.85 145.54 L463.09 144.3 L462.32 143.03 L461.54 141.74 L460.77 140.41 L459.99 139.06 L459.21 137.66 L458.43 136.23 L457.66 134.75 L456.88 133.23 L456.12 131.65 L455.35 130.03 L454.6 128.35 L453.85 126.6 L453.1 124.8 L452.36 122.93 L451.63 120.99 L450.9 118.98 L450.18 116.88 L449.47 114.71 L448.76 112.46 L448.05 110.11 L447.35 107.67 L446.65 105.14 L445.95 102.5 L445.24 99.76 L444.54 96.91 L443.84 93.95 L443.13 90.86 L442.41 87.63 L441.7 84.25 L440.98 80.72 L440.26 77 L439.53 73.1 L438.8 69.01 L438.05 64.7 L437.3 60.17 L436.53 55.4 L435.75 50.39 L434.94 45.11 L434.11 39.56 L433.24 33.73 L432.34 27.59 L431.4 21.15 L430.5 15.22Z" fill="#48CE8E" />
<path d="M423.48 14.38 L423.71 20.38 L424.29 34.43 L424.91 46.53 L425.58 56.97 L426.28 66.06 L427 74.09 L427.73 81.26 L428.47 87.66 L429.23 93.38 L430 98.48 L430.79 103.06 L431.6 107.2 L432.41 110.99 L433.22 114.51 L434.03 117.83 L434.82 120.98 L435.6 123.96 L436.38 126.78 L437.15 129.45 L437.92 131.98 L438.68 134.38 L439.43 136.65 L440.19 138.82 L440.94 140.88 L441.69 142.85 L442.44 144.74 L443.18 146.55 L443.92 148.28 L444.66 149.95 L445.4 151.55 L446.13 153.08 L446.87 154.55 L447.6 155.96 L448.34 157.31 L449.08 158.62 L449.82 159.87 L450.56 161.08 L451.3 162.25 L452.04 163.38 L452.79 164.48 L453.54 165.55 L454.3 166.58 L455.05 167.59 L455.81 168.59 L456.57 169.56 L457.34 170.51 L458.11 171.46 L458.88 172.39 L459.64 173.32 L460.41 174.24 L461.17 175.14 L461.93 176.04 L462.69 176.92 L463.45 177.79 L464.2 178.65 L464.95 179.5 L465.7 180.33 L466.46 181.16 L467.21 181.98 L467.96 182.78 L468.71 183.57 L469.46 184.35 L470.21 185.12 L470.97 185.88 L471.73 186.63 L472.49 187.37 L473.25 188.1 L474.02 188.82 L474.79 189.53 L475.56 190.23 L476.34 190.91 L477.13 191.59 L477.92 192.26 L478.72 192.92 L479.52 193.58 L480.33 194.22 L481.15 194.86 L481.97 195.48 L482.8 196.1 L483.65 196.72 L484.5 197.32 L485.36 197.92 L486.23 198.51 L487.11 199.09 L488 199.67 L488.91 200.24 L489.82 200.81 L490.75 201.37 L491.69 201.93 L492.64 202.48 L493.61 203.03 L494.59 203.57 L495.59 204.11 L496.6 204.65 L497.62 205.18 L498.66 205.71 L499.72 206.24 L500.8 206.76 L501.89 207.29 L502.99 207.81 L504.12 208.33 L505.26 208.85 L506.42 209.37 L507.6 209.89 L508.8 210.41 L510.01 210.93 L511.25 211.45 L512.5 211.98 L513.78 212.5 L515.08 213.03 L516.39 213.56 L517.73 214.1 L519.08 214.64 L520.46 215.18 L521.86 215.73 L523.28 216.28 L524.72 216.84 L526.18 217.4 L527.67 217.96 L529.17 218.53 L530.7 219.1 L532.27 219.67 L533.86 220.24 L535.5 220.8 L537.18 221.37 L538.9 221.94 L540.68 222.5 L542.51 223.07 L544.39 223.63 L546.34 224.19 L548.36 224.75 L550.44 225.32 L552.6 225.88 L554.84 226.44 L557.16 227 L559.56 227.57 L562.05 228.14 L564.63 228.71 L567.31 229.29 L570.09 229.87 L572.98 230.47 L575.97 231.07 L579.07 231.69 L582.27 232.32 L585.59 232.97 L589.01 233.65 L592.53 234.34 L596.16 235.07 L599.9 235.83 L603.74 236.62 L607.68 237.45 L611.72 238.31 L615.87 239.22 L620.12 240.18 L624.46 241.19 L628.91 242.25 L633.46 243.36 L638.1 244.53 L642.83 245.76 L647.66 247.06 A1.4 1.4 0 0 1 647.04 249.8 L647.04 249.8 L642.13 248.88 L637.34 248 L632.65 247.16 L628.06 246.35 L623.57 245.58 L619.19 244.84 L614.92 244.12 L610.75 243.44 L606.68 242.78 L602.72 242.15 L598.86 241.53 L595.11 240.94 L591.46 240.36 L587.91 239.8 L584.47 239.25 L581.13 238.71 L577.89 238.17 L574.75 237.65 L571.72 237.12 L568.79 236.6 L565.95 236.08 L563.22 235.56 L560.58 235.03 L558.02 234.51 L555.56 233.98 L553.17 233.44 L550.87 232.9 L548.64 232.36 L546.48 231.81 L544.39 231.26 L542.37 230.71 L540.4 230.15 L538.5 229.58 L536.65 229.01 L534.86 228.44 L533.11 227.87 L531.41 227.29 L529.76 226.72 L528.14 226.14 L526.56 225.56 L525.02 224.99 L523.51 224.42 L522.03 223.86 L520.57 223.3 L519.13 222.74 L517.71 222.19 L516.32 221.64 L514.94 221.09 L513.58 220.55 L512.24 220.01 L510.92 219.47 L509.61 218.93 L508.33 218.39 L507.06 217.85 L505.81 217.3 L504.57 216.76 L503.36 216.22 L502.16 215.68 L500.97 215.13 L499.8 214.58 L498.65 214.03 L497.51 213.47 L496.39 212.91 L495.29 212.35 L494.19 211.79 L493.12 211.22 L492.05 210.64 L491 210.06 L489.96 209.47 L488.94 208.88 L487.93 208.28 L486.93 207.68 L485.94 207.07 L484.97 206.45 L484.01 205.83 L483.06 205.2 L482.12 204.56 L481.19 203.91 L480.27 203.26 L479.36 202.59 L478.47 201.92 L477.58 201.24 L476.7 200.56 L475.83 199.86 L474.97 199.16 L474.11 198.44 L473.27 197.72 L472.43 196.99 L471.6 196.25 L470.78 195.5 L469.96 194.74 L469.15 193.98 L468.35 193.2 L467.55 192.41 L466.76 191.62 L465.97 190.81 L465.19 190 L464.41 189.17 L463.63 188.34 L462.86 187.49 L462.09 186.64 L461.32 185.78 L460.55 184.9 L459.79 184.02 L459.03 183.13 L458.26 182.22 L457.5 181.31 L456.74 180.39 L455.98 179.45 L455.21 178.51 L454.45 177.56 L453.68 176.6 L452.91 175.62 L452.13 174.62 L451.35 173.6 L450.57 172.56 L449.78 171.49 L449 170.4 L448.22 169.27 L447.43 168.11 L446.65 166.91 L445.88 165.67 L445.1 164.4 L444.34 163.07 L443.57 161.71 L442.81 160.29 L442.06 158.82 L441.31 157.3 L440.56 155.73 L439.82 154.09 L439.09 152.39 L438.35 150.63 L437.62 148.8 L436.89 146.9 L436.16 144.92 L435.43 142.86 L434.7 140.7 L433.97 138.44 L433.24 136.07 L432.52 133.58 L431.79 130.96 L431.07 128.21 L430.35 125.31 L429.62 122.26 L428.89 119.04 L428.15 115.65 L427.4 112.04 L426.66 108.15 L425.94 103.89 L425.24 99.2 L424.56 93.99 L423.92 88.18 L423.3 81.7 L422.7 74.46 L422.13 66.37 L421.57 57.22 L421.05 46.72 L420.55 34.58 L420.07 20.51 L419.85 14.52Z" fill="#00FFFF" />
<path d="M465.82 5.53C466.17 7.66 467.21 14.17 467.94 18.34C468.66 22.52 469.4 26.59 470.15 30.57C470.91 34.56 471.69 38.45 472.48 42.25C473.27 46.06 474.08 49.77 474.91 53.4C475.74 57.03 476.59 60.58 477.46 64.05C478.33 67.51 479.22 70.9 480.13 74.21C481.05 77.52 481.98 80.75 482.93 83.91C483.89 87.07 484.86 90.15 485.86 93.17C486.86 96.19 487.89 99.13 488.93 102.01C489.98 104.89 491.05 107.7 492.15 110.45C493.25 113.2 494.37 115.88 495.52 118.51C496.67 121.13 497.84 123.69 499.05 126.2C500.25 128.71 501.48 131.15 502.74 133.54C504 135.94 505.29 138.27 506.61 140.55C507.93 142.84 509.28 145.07 510.67 147.25C512.05 149.43 513.47 151.56 514.92 153.64C516.37 155.72 517.85 157.75 519.37 159.74C520.88 161.72 522.44 163.66 524.03 165.56C525.62 167.46 527.24 169.31 528.91 171.12C530.58 172.93 532.28 174.7 534.02 176.43C535.77 178.16 537.55 179.84 539.38 181.49C541.21 183.14 543.08 184.75 544.99 186.33C546.91 187.91 548.86 189.44 550.87 190.95C552.87 192.45 554.92 193.92 557.03 195.36C559.13 196.79 561.27 198.19 563.47 199.57C565.68 200.94 567.92 202.27 570.23 203.58C572.54 204.89 574.89 206.17 577.31 207.42C579.72 208.67 582.19 209.89 584.72 211.08C587.25 212.27 589.83 213.44 592.48 214.58C595.13 215.72 597.84 216.83 600.61 217.91C603.39 219 606.23 220.06 609.13 221.1C612.04 222.14 615.01 223.15 618.06 224.14C621.1 225.13 624.21 226.1 627.4 227.05C630.59 227.99 633.85 228.92 637.19 229.82C640.54 230.72 643.95 231.6 647.45 232.46C650.95 233.33 654.53 234.17 658.19 234.99C661.86 235.81 665.61 236.62 669.45 237.4C673.29 238.19 677.21 238.96 681.23 239.71C685.26 240.46 689.37 241.19 693.58 241.9C697.79 242.62 704.36 243.65 706.51 244" fill="none" stroke="#000" stroke-width="1.05"/>
<path d="M472.02 5.53C472.39 7.52 473.5 13.57 474.26 17.46C475.02 21.36 475.8 25.16 476.6 28.89C477.39 32.62 478.21 36.27 479.04 39.84C479.87 43.41 480.72 46.9 481.59 50.33C482.46 53.75 483.34 57.09 484.25 60.37C485.16 63.65 486.08 66.85 487.03 69.99C487.98 73.13 488.94 76.19 489.93 79.2C490.92 82.21 491.93 85.14 492.96 88.02C493.99 90.9 495.05 93.72 496.12 96.48C497.2 99.23 498.3 101.93 499.42 104.57C500.55 107.21 501.7 109.79 502.87 112.32C504.05 114.85 505.25 117.32 506.47 119.75C507.7 122.17 508.95 124.54 510.23 126.86C511.51 129.18 512.82 131.45 514.15 133.67C515.49 135.89 516.86 138.07 518.25 140.2C519.65 142.32 521.07 144.4 522.53 146.44C523.99 148.48 525.47 150.48 527 152.43C528.52 154.38 530.07 156.29 531.66 158.16C533.25 160.03 534.87 161.86 536.53 163.65C538.19 165.44 539.88 167.19 541.61 168.91C543.34 170.62 545.11 172.3 546.92 173.95C548.73 175.59 550.57 177.2 552.46 178.77C554.35 180.34 556.27 181.88 558.24 183.39C560.22 184.9 562.23 186.37 564.29 187.81C566.34 189.26 568.44 190.67 570.59 192.05C572.74 193.44 574.93 194.79 577.18 196.11C579.42 197.44 581.71 198.73 584.05 200C586.39 201.27 588.78 202.51 591.23 203.72C593.68 204.94 596.17 206.13 598.72 207.29C601.28 208.45 603.88 209.59 606.55 210.71C609.22 211.82 611.94 212.91 614.72 213.98C617.5 215.05 620.34 216.09 623.25 217.11C626.16 218.13 629.12 219.13 632.16 220.11C635.19 221.09 638.29 222.05 641.45 222.99C644.62 223.93 647.85 224.84 651.16 225.74C654.47 226.64 657.85 227.52 661.3 228.38C664.75 229.24 668.28 230.08 671.88 230.9C675.49 231.73 679.17 232.53 682.93 233.32C686.7 234.11 690.54 234.88 694.47 235.64C698.4 236.39 704.51 237.49 706.51 237.86" fill="none" stroke="#000" stroke-width="1.05"/>
</g>
<rect x="38.9" y="16.4" width="273.7" height="271.8" fill="none" stroke="#000" stroke-width="1.1"/>
<line x1="38.9" y1="288.2" x2="44.5" y2="288.2" stroke="#000" stroke-width="1.1"/>
<line x1="38.9" y1="261.02" x2="44.5" y2="261.02" stroke="#000" stroke-width="1.1"/>
<line x1="38.9" y1="233.84" x2="44.5" y2="233.84" stroke="#000" stroke-width="1.1"/>
<line x1="38.9" y1="206.66" x2="44.5" y2="206.66" stroke="#000" stroke-width="1.1"/>
<line x1="38.9" y1="179.48" x2="44.5" y2="179.48" stroke="#000" stroke-width="1.1"/>
<line x1="38.9" y1="152.3" x2="44.5" y2="152.3" stroke="#000" stroke-width="1.1"/>
<line x1="38.9" y1="125.12" x2="44.5" y2="125.12" stroke="#000" stroke-width="1.1"/>
<line x1="38.9" y1="97.94" x2="44.5" y2="97.94" stroke="#000" stroke-width="1.1"/>
<line x1="38.9" y1="70.76" x2="44.5" y2="70.76" stroke="#000" stroke-width="1.1"/>
<line x1="38.9" y1="43.58" x2="44.5" y2="43.58" stroke="#000" stroke-width="1.1"/>
<line x1="38.9" y1="16.4" x2="44.5" y2="16.4" stroke="#000" stroke-width="1.1"/>
<line x1="63.78" y1="288.2" x2="63.78" y2="282.6" stroke="#000" stroke-width="1.1"/>
<line x1="125.99" y1="288.2" x2="125.99" y2="282.6" stroke="#000" stroke-width="1.1"/>
<line x1="188.19" y1="288.2" x2="188.19" y2="282.6" stroke="#000" stroke-width="1.1"/>
<line x1="250.4" y1="288.2" x2="250.4" y2="282.6" stroke="#000" stroke-width="1.1"/>
<line x1="312.6" y1="288.2" x2="312.6" y2="282.6" stroke="#000" stroke-width="1.1"/>
<text transform="translate(27.52 293.6) scale(1.0600 1)" font-size="15" fill="#000" >0</text>
<text transform="translate(19.04 239.24) scale(1.0600 1)" font-size="15" fill="#000" >10</text>
<text transform="translate(19.04 184.88) scale(1.0600 1)" font-size="15" fill="#000" >20</text>
<text transform="translate(19.04 130.52) scale(1.0600 1)" font-size="15" fill="#000" >30</text>
<text transform="translate(19.04 76.16) scale(1.0600 1)" font-size="15" fill="#000" >40</text>
<text transform="translate(19.04 21.8) scale(1.0600 1)" font-size="15" fill="#000" >50</text>
<text transform="translate(59.01 301.8) scale(1.0600 1)" font-size="15" fill="#000" >0</text>
<text transform="translate(110.09 301.8) scale(1.0600 1)" font-size="15" fill="#000" >0.05</text>
<text transform="translate(177.06 301.8) scale(1.0600 1)" font-size="15" fill="#000" >0.1</text>
<text transform="translate(234.5 301.8) scale(1.0600 1)" font-size="15" fill="#000" >0.15</text>
<text transform="translate(301.47 301.8) scale(1.0600 1)" font-size="15" fill="#000" >0.2</text>
<rect x="396.4" y="16.4" width="272.9" height="271.8" fill="none" stroke="#000" stroke-width="1.1"/>
<line x1="396.4" y1="288.2" x2="402" y2="288.2" stroke="#000" stroke-width="1.1"/>
<line x1="396.4" y1="261.02" x2="402" y2="261.02" stroke="#000" stroke-width="1.1"/>
<line x1="396.4" y1="233.84" x2="402" y2="233.84" stroke="#000" stroke-width="1.1"/>
<line x1="396.4" y1="206.66" x2="402" y2="206.66" stroke="#000" stroke-width="1.1"/>
<line x1="396.4" y1="179.48" x2="402" y2="179.48" stroke="#000" stroke-width="1.1"/>
<line x1="396.4" y1="152.3" x2="402" y2="152.3" stroke="#000" stroke-width="1.1"/>
<line x1="396.4" y1="125.12" x2="402" y2="125.12" stroke="#000" stroke-width="1.1"/>
<line x1="396.4" y1="97.94" x2="402" y2="97.94" stroke="#000" stroke-width="1.1"/>
<line x1="396.4" y1="70.76" x2="402" y2="70.76" stroke="#000" stroke-width="1.1"/>
<line x1="396.4" y1="43.58" x2="402" y2="43.58" stroke="#000" stroke-width="1.1"/>
<line x1="396.4" y1="16.4" x2="402" y2="16.4" stroke="#000" stroke-width="1.1"/>
<line x1="421.21" y1="288.2" x2="421.21" y2="282.6" stroke="#000" stroke-width="1.1"/>
<line x1="483.23" y1="288.2" x2="483.23" y2="282.6" stroke="#000" stroke-width="1.1"/>
<line x1="545.25" y1="288.2" x2="545.25" y2="282.6" stroke="#000" stroke-width="1.1"/>
<line x1="607.28" y1="288.2" x2="607.28" y2="282.6" stroke="#000" stroke-width="1.1"/>
<line x1="669.3" y1="288.2" x2="669.3" y2="282.6" stroke="#000" stroke-width="1.1"/>
<text transform="translate(384.42 293.6) scale(1.0600 1)" font-size="15" fill="#000" >0</text>
<text transform="translate(375.94 239.24) scale(1.0600 1)" font-size="15" fill="#000" >10</text>
<text transform="translate(375.94 184.88) scale(1.0600 1)" font-size="15" fill="#000" >20</text>
<text transform="translate(375.94 130.52) scale(1.0600 1)" font-size="15" fill="#000" >30</text>
<text transform="translate(375.94 76.16) scale(1.0600 1)" font-size="15" fill="#000" >40</text>
<text transform="translate(375.94 21.8) scale(1.0600 1)" font-size="15" fill="#000" >50</text>
<text transform="translate(405.31 301.8) scale(1.0600 1)" font-size="15" fill="#000" >0.00</text>
<text transform="translate(467.33 301.8) scale(1.0600 1)" font-size="15" fill="#000" >0.05</text>
<text transform="translate(529.35 301.8) scale(1.0600 1)" font-size="15" fill="#000" >0.10</text>
<text transform="translate(591.38 301.8) scale(1.0600 1)" font-size="15" fill="#000" >0.15</text>
<text transform="translate(653.4 301.8) scale(1.0600 1)" font-size="15" fill="#000" >0.20</text>
<line x1="63.78" y1="282.6" x2="63.78" y2="287.6" stroke="#9a9a9a" stroke-width="1.1" opacity="0.75"/>
<line x1="421.21" y1="282.6" x2="421.21" y2="287.6" stroke="#9a9a9a" stroke-width="1.1" opacity="0.75"/>
<rect x="194.7" y="16.4" width="116.3" height="116.5" fill="#fff"/>
<g clip-path="url(#ci)">
<path d="M253.69 111.6C253.52 111.44 253.67 111.35 252.68 110.65C251.69 109.96 249.63 108.95 247.77 107.44C245.91 105.93 243.61 104.55 241.54 101.61C239.47 98.67 236.56 92.14 235.34 89.78C234.11 87.42 234.63 88.47 234.18 87.47C233.74 86.46 233.12 85.29 232.64 83.74C232.17 82.19 231.68 79.88 231.33 78.16C230.99 76.45 230.77 74.94 230.55 73.45C230.34 71.96 230.15 70.58 230.04 69.21C229.93 67.83 229.91 66.62 229.88 65.22C229.86 63.82 229.86 61.86 229.88 60.81C229.91 59.76 229.95 59.37 230.04 58.92C230.13 58.47 230.29 58.18 230.41 58.11C230.54 58.03 230.69 58.22 230.79 58.49C230.88 58.76 230.94 59.13 230.99 59.73C231.04 60.33 231.03 61.04 231.08 62.09C231.14 63.14 231.22 64.71 231.33 66.03C231.45 67.36 231.55 68.66 231.77 70.02C231.99 71.39 232.24 72.46 232.64 74.22C233.04 75.98 233.77 78.89 234.18 80.57C234.6 82.24 234.76 82.97 235.15 84.29C235.55 85.62 235.49 86.42 236.55 88.54C237.62 90.66 239.67 94.32 241.54 97.02C243.41 99.72 245.91 102.86 247.77 104.74C249.63 106.62 251.69 107.62 252.68 108.3C253.67 108.98 253.52 108.73 253.69 108.81Z" fill="#87C9F6" stroke="#87C9F6" stroke-width="2.2" stroke-linejoin="round"/>
<path d="M220.87 0.42C220.93 1.58 221.11 5.1 221.24 7.35C221.37 9.6 221.5 11.78 221.64 13.92C221.77 16.05 221.91 18.12 222.05 20.14C222.2 22.16 222.34 24.12 222.49 26.03C222.64 27.95 222.8 29.81 222.96 31.62C223.12 33.44 223.28 35.2 223.45 36.92C223.61 38.64 223.79 40.31 223.96 41.94C224.14 43.57 224.32 45.15 224.51 46.7C224.7 48.24 224.89 49.74 225.08 51.2C225.28 52.67 225.48 54.09 225.69 55.48C225.9 56.86 226.11 58.21 226.33 59.52C226.55 60.84 226.78 62.12 227.01 63.36C227.24 64.61 227.48 65.82 227.72 67C227.97 68.18 228.22 69.33 228.47 70.44C228.73 71.56 229 72.65 229.27 73.71C229.54 74.77 229.82 75.8 230.11 76.81C230.39 77.81 230.69 78.79 230.99 79.74C231.29 80.69 231.6 81.62 231.92 82.52C232.24 83.42 232.57 84.3 232.91 85.15C233.24 86.01 233.59 86.84 233.95 87.65C234.3 88.46 234.67 89.25 235.04 90.02C235.42 90.78 235.8 91.53 236.2 92.26C236.59 92.99 237 93.69 237.42 94.38C237.84 95.07 238.26 95.74 238.71 96.4C239.15 97.05 239.6 97.69 240.06 98.31C240.53 98.93 241.01 99.53 241.5 100.12C241.99 100.7 242.49 101.27 243.01 101.83C243.53 102.39 244.06 102.93 244.61 103.46C245.15 103.98 245.71 104.5 246.29 105C246.87 105.5 247.46 105.98 248.07 106.45C248.68 106.93 249.3 107.39 249.94 107.84C250.59 108.29 251.24 108.72 251.92 109.15C252.6 109.57 253.3 109.99 254.01 110.39C254.73 110.79 255.46 111.19 256.21 111.57C256.97 111.95 257.74 112.32 258.54 112.68C259.33 113.05 260.15 113.4 260.99 113.74C261.83 114.08 262.69 114.42 263.58 114.74C264.47 115.07 265.38 115.38 266.31 115.69C267.25 116 268.21 116.3 269.19 116.59C270.18 116.88 271.73 117.3 272.23 117.44L272.23 119.77C271.69 119.64 270.03 119.26 268.98 119C267.93 118.73 266.9 118.46 265.91 118.17C264.91 117.89 263.95 117.6 263.01 117.3C262.07 117 261.16 116.69 260.27 116.38C259.39 116.06 258.53 115.73 257.69 115.4C256.85 115.06 256.04 114.72 255.25 114.36C254.46 114 253.69 113.64 252.95 113.26C252.2 112.88 251.48 112.5 250.77 112.1C250.07 111.7 249.39 111.29 248.72 110.86C248.06 110.44 247.41 110.01 246.78 109.56C246.16 109.11 245.55 108.65 244.95 108.18C244.36 107.7 243.79 107.21 243.23 106.71C242.67 106.21 242.13 105.69 241.6 105.16C241.07 104.63 240.56 104.08 240.06 103.52C239.56 102.95 239.08 102.37 238.6 101.77C238.13 101.18 237.68 100.56 237.23 99.93C236.79 99.3 236.36 98.65 235.94 97.98C235.52 97.31 235.11 96.62 234.72 95.91C234.32 95.2 233.94 94.47 233.56 93.71C233.19 92.96 232.83 92.19 232.47 91.39C232.12 90.6 231.78 89.78 231.44 88.93C231.11 88.09 230.79 87.22 230.47 86.33C230.16 85.43 229.85 84.52 229.56 83.57C229.26 82.62 228.97 81.65 228.69 80.65C228.41 79.64 228.14 78.61 227.87 77.55C227.61 76.49 227.35 75.4 227.1 74.27C226.85 73.14 226.61 71.99 226.37 70.8C226.14 69.6 225.91 68.38 225.69 67.12C225.46 65.85 225.25 64.56 225.04 63.22C224.83 61.88 224.62 60.51 224.42 59.09C224.23 57.67 224.03 56.22 223.85 54.72C223.66 53.21 223.48 51.67 223.3 50.08C223.12 48.49 222.95 46.86 222.78 45.18C222.62 43.49 222.45 41.76 222.3 39.98C222.14 38.19 221.99 36.36 221.84 34.47C221.69 32.58 221.54 30.64 221.4 28.64C221.26 26.64 221.13 24.58 220.99 22.46C220.86 20.34 220.73 18.16 220.61 15.92C220.48 13.67 220.36 11.36 220.24 8.99C220.12 6.61 219.96 2.87 219.9 1.64Z" fill="#EE7A9E" stroke="#EE7A9E" stroke-width="2.8"/>
<path d="M216.11 15.09 L216.25 17.64 L216.42 20.58 L216.58 23.38 L216.74 26.04 L216.9 28.55 L217.05 30.92 L217.2 33.16 L217.34 35.25 L217.49 37.2 L217.63 39.01 L217.78 40.69 L217.92 42.25 L218.07 43.7 L218.22 45.06 L218.37 46.34 L218.51 47.55 L218.66 48.72 L218.81 49.84 L218.95 50.94 L219.1 52.01 L219.24 53.04 L219.38 54.05 L219.51 55.02 L219.65 55.97 L219.78 56.89 L219.92 57.78 L220.05 58.65 L220.18 59.49 L220.31 60.3 L220.44 61.09 L220.57 61.86 L220.7 62.6 L220.82 63.32 L220.95 64.02 L221.08 64.7 L221.21 65.36 L221.33 65.99 L221.46 66.61 L221.59 67.22 L221.72 67.8 L221.84 68.37 L221.97 68.92 L222.1 69.46 L222.23 69.99 L222.36 70.5 L222.49 71 L222.62 71.49 L222.75 71.97 L222.88 72.44 L223.01 72.89 L223.15 73.35 L223.28 73.79 L223.41 74.22 L223.55 74.65 L223.68 75.08 L223.82 75.5 L223.95 75.92 L224.09 76.33 L224.23 76.74 L224.37 77.14 L224.5 77.55 L224.64 77.95 L224.78 78.34 L224.92 78.74 L225.05 79.12 L225.19 79.51 L225.33 79.89 L225.47 80.27 L225.6 80.65 L225.74 81.02 L225.88 81.38 L226.02 81.75 L226.16 82.11 L226.3 82.47 L226.44 82.82 L226.59 83.17 L226.73 83.52 L226.87 83.87 L227.02 84.21 L227.16 84.55 L227.31 84.89 L227.46 85.22 L227.61 85.55 L227.76 85.88 L227.91 86.21 L228.06 86.53 L228.22 86.85 L228.37 87.17 L228.53 87.49 L228.69 87.81 L228.85 88.12 L229.01 88.43 L229.18 88.74 L229.35 89.05 L229.51 89.36 L229.68 89.67 L229.86 89.97 L230.03 90.28 L230.21 90.58 L230.39 90.88 L230.57 91.19 L230.76 91.49 L230.94 91.79 L231.13 92.09 L231.32 92.39 L231.52 92.69 L231.72 93 L231.92 93.3 L232.12 93.6 L232.33 93.91 L232.54 94.21 L232.75 94.52 L232.96 94.83 L233.18 95.13 L233.4 95.45 L233.63 95.76 L233.85 96.07 L234.08 96.39 L234.32 96.71 L234.55 97.03 L234.79 97.36 L235.04 97.68 L235.29 98.01 L235.54 98.35 L235.79 98.69 L236.05 99.03 L236.31 99.37 L236.57 99.72 L236.84 100.07 L237.11 100.41 L237.39 100.76 L237.68 101.11 L237.97 101.46 L238.27 101.8 L238.58 102.15 L238.91 102.5 L239.24 102.85 L239.59 103.19 L239.95 103.54 L240.32 103.89 L240.71 104.24 L241.12 104.58 L241.54 104.93 L241.98 105.29 L242.44 105.64 L242.92 106 L243.42 106.36 L243.94 106.73 L244.49 107.1 L245.06 107.47 L245.66 107.85 L246.29 108.24 L246.94 108.64 L247.63 109.05 L248.34 109.47 L249.09 109.9 L249.89 110.35 L250.74 110.8 L251.64 111.26 L252.62 111.73 L260.6 115.19 L266.42 116.82 L266.42 117.52 L266.42 117.52 L260.6 117.29 L252.53 113.51 L251.54 113.26 L250.62 113 L249.75 112.72 L248.94 112.43 L248.17 112.13 L247.44 111.83 L246.74 111.53 L246.08 111.23 L245.44 110.93 L244.82 110.63 L244.24 110.33 L243.67 110.02 L243.13 109.71 L242.62 109.4 L242.12 109.09 L241.64 108.77 L241.18 108.45 L240.74 108.13 L240.32 107.81 L239.91 107.48 L239.52 107.15 L239.14 106.81 L238.77 106.47 L238.42 106.13 L238.08 105.79 L237.74 105.44 L237.43 105.1 L237.12 104.75 L236.81 104.4 L236.52 104.05 L236.24 103.71 L235.96 103.36 L235.69 103.02 L235.42 102.68 L235.16 102.34 L234.9 102.01 L234.65 101.68 L234.4 101.35 L234.15 101.03 L233.9 100.7 L233.66 100.38 L233.42 100.06 L233.19 99.74 L232.96 99.43 L232.73 99.11 L232.5 98.79 L232.28 98.48 L232.06 98.16 L231.84 97.85 L231.62 97.54 L231.41 97.22 L231.2 96.91 L230.99 96.6 L230.79 96.28 L230.59 95.97 L230.39 95.65 L230.19 95.33 L229.99 95.02 L229.8 94.7 L229.61 94.38 L229.42 94.06 L229.24 93.74 L229.05 93.41 L228.87 93.09 L228.69 92.76 L228.52 92.43 L228.34 92.1 L228.17 91.77 L228 91.43 L227.83 91.09 L227.66 90.75 L227.49 90.41 L227.33 90.07 L227.17 89.72 L227.01 89.37 L226.85 89.02 L226.69 88.66 L226.53 88.31 L226.38 87.95 L226.22 87.58 L226.07 87.22 L225.92 86.85 L225.77 86.48 L225.62 86.1 L225.47 85.72 L225.33 85.34 L225.18 84.96 L225.04 84.57 L224.89 84.18 L224.75 83.79 L224.61 83.4 L224.46 83 L224.32 82.59 L224.18 82.19 L224.04 81.78 L223.9 81.37 L223.76 80.96 L223.63 80.54 L223.49 80.12 L223.35 79.7 L223.21 79.27 L223.07 78.84 L222.93 78.4 L222.8 77.96 L222.66 77.51 L222.52 77.05 L222.38 76.58 L222.24 76.11 L222.1 75.63 L221.97 75.14 L221.83 74.63 L221.69 74.12 L221.56 73.6 L221.42 73.06 L221.29 72.51 L221.15 71.95 L221.02 71.38 L220.89 70.79 L220.76 70.19 L220.63 69.57 L220.5 68.93 L220.37 68.28 L220.24 67.61 L220.11 66.92 L219.99 66.22 L219.86 65.5 L219.73 64.75 L219.61 63.99 L219.48 63.2 L219.36 62.4 L219.23 61.57 L219.11 60.72 L218.98 59.84 L218.86 58.94 L218.73 58.01 L218.6 57.06 L218.48 56.09 L218.35 55.08 L218.22 54.05 L218.09 52.99 L217.96 51.89 L217.82 50.77 L217.69 49.62 L217.55 48.41 L217.41 47.15 L217.28 45.81 L217.14 44.39 L217.01 42.88 L216.88 41.26 L216.75 39.52 L216.62 37.66 L216.5 35.66 L216.38 33.54 L216.25 31.28 L216.13 28.88 L216 26.35 L215.87 23.67 L215.74 20.86 L215.6 17.9 L215.46 15.35Z" fill="#48CE8E" stroke="#48CE8E" stroke-width="2.2" stroke-linejoin="round"/>
<path d="M211.99 16.07 L212.01 18.65 L212.08 23.75 L212.15 28.31 L212.23 32.37 L212.32 35.98 L212.42 39.19 L212.53 42.06 L212.64 44.63 L212.75 46.96 L212.87 49.1 L212.99 51.08 L213.12 52.91 L213.24 54.61 L213.37 56.17 L213.49 57.61 L213.62 58.95 L213.76 60.18 L213.89 61.32 L214.03 62.38 L214.17 63.37 L214.31 64.29 L214.45 65.17 L214.6 66.01 L214.74 66.82 L214.89 67.6 L215.03 68.37 L215.18 69.13 L215.32 69.86 L215.46 70.58 L215.6 71.28 L215.74 71.97 L215.88 72.63 L216.02 73.29 L216.16 73.92 L216.3 74.54 L216.43 75.14 L216.57 75.73 L216.71 76.31 L216.84 76.86 L216.98 77.41 L217.11 77.94 L217.25 78.46 L217.39 78.96 L217.52 79.45 L217.66 79.93 L217.8 80.4 L217.93 80.86 L218.07 81.3 L218.21 81.73 L218.35 82.15 L218.49 82.57 L218.63 82.97 L218.77 83.36 L218.91 83.75 L219.06 84.12 L219.2 84.49 L219.35 84.85 L219.5 85.2 L219.64 85.54 L219.79 85.88 L219.94 86.21 L220.1 86.53 L220.25 86.85 L220.4 87.17 L220.56 87.47 L220.72 87.78 L220.88 88.08 L221.04 88.37 L221.2 88.66 L221.36 88.95 L221.53 89.23 L221.7 89.51 L221.87 89.79 L222.04 90.07 L222.21 90.34 L222.38 90.61 L222.56 90.88 L222.73 91.15 L222.91 91.42 L223.09 91.69 L223.27 91.95 L223.46 92.22 L223.64 92.49 L223.82 92.76 L224.01 93.02 L224.2 93.29 L224.39 93.56 L224.58 93.82 L224.77 94.09 L224.96 94.36 L225.15 94.62 L225.35 94.89 L225.55 95.15 L225.75 95.42 L225.95 95.68 L226.15 95.94 L226.35 96.2 L226.56 96.47 L226.77 96.73 L226.98 96.99 L227.2 97.25 L227.41 97.51 L227.63 97.76 L227.85 98.02 L228.08 98.28 L228.31 98.54 L228.54 98.79 L228.78 99.05 L229.01 99.31 L229.26 99.56 L229.5 99.82 L229.75 100.07 L230.01 100.33 L230.26 100.59 L230.53 100.84 L230.79 101.1 L231.07 101.36 L231.34 101.62 L231.62 101.88 L231.91 102.14 L232.2 102.4 L232.49 102.67 L232.79 102.93 L233.1 103.19 L233.41 103.46 L233.73 103.72 L234.06 103.98 L234.39 104.24 L234.74 104.5 L235.09 104.76 L235.46 105.02 L235.83 105.28 L236.21 105.54 L236.61 105.8 L237.02 106.05 L237.44 106.31 L237.87 106.57 L238.32 106.82 L238.78 107.08 L239.25 107.34 L239.75 107.6 L240.25 107.87 L240.78 108.14 L241.32 108.4 L241.87 108.68 L242.45 108.96 L243.04 109.24 L243.66 109.53 L244.29 109.83 L244.94 110.13 L245.62 110.45 L246.31 110.77 L247.03 111.11 L247.77 111.46 L248.53 111.82 L249.31 112.2 L250.12 112.59 L250.95 113.01 L251.8 113.44 L252.68 113.89 L264.48 117.76 L276.11 119.85 L276.11 120.32 L276.11 120.32 L264.48 119.15 L252.61 115.22 L251.72 114.96 L250.86 114.71 L250.02 114.46 L249.21 114.22 L248.41 113.98 L247.65 113.75 L246.9 113.52 L246.18 113.29 L245.48 113.07 L244.8 112.84 L244.14 112.62 L243.5 112.4 L242.88 112.18 L242.28 111.96 L241.7 111.74 L241.13 111.52 L240.58 111.3 L240.05 111.08 L239.54 110.86 L239.04 110.63 L238.55 110.4 L238.08 110.18 L237.62 109.94 L237.18 109.71 L236.75 109.47 L236.33 109.23 L235.92 108.99 L235.53 108.74 L235.14 108.5 L234.77 108.24 L234.4 107.99 L234.05 107.74 L233.7 107.48 L233.36 107.22 L233.03 106.96 L232.71 106.7 L232.4 106.43 L232.09 106.17 L231.79 105.91 L231.49 105.65 L231.2 105.38 L230.91 105.12 L230.63 104.86 L230.35 104.6 L230.08 104.34 L229.81 104.07 L229.55 103.81 L229.29 103.55 L229.03 103.29 L228.78 103.02 L228.53 102.76 L228.28 102.49 L228.04 102.23 L227.8 101.96 L227.57 101.69 L227.33 101.42 L227.1 101.16 L226.88 100.89 L226.66 100.61 L226.43 100.34 L226.22 100.07 L226 99.8 L225.79 99.52 L225.58 99.25 L225.37 98.97 L225.17 98.7 L224.96 98.42 L224.76 98.14 L224.56 97.87 L224.37 97.59 L224.17 97.31 L223.98 97.03 L223.78 96.75 L223.59 96.47 L223.4 96.2 L223.21 95.92 L223.03 95.64 L222.84 95.36 L222.66 95.08 L222.47 94.8 L222.29 94.52 L222.11 94.23 L221.92 93.95 L221.74 93.66 L221.56 93.37 L221.39 93.07 L221.21 92.77 L221.03 92.47 L220.86 92.17 L220.68 91.86 L220.51 91.54 L220.34 91.22 L220.17 90.9 L220 90.57 L219.83 90.24 L219.67 89.89 L219.5 89.55 L219.34 89.19 L219.18 88.83 L219.02 88.46 L218.86 88.09 L218.7 87.7 L218.54 87.31 L218.38 86.91 L218.23 86.5 L218.08 86.08 L217.93 85.66 L217.77 85.22 L217.62 84.77 L217.48 84.31 L217.33 83.85 L217.18 83.37 L217.04 82.88 L216.89 82.38 L216.75 81.87 L216.61 81.35 L216.47 80.81 L216.33 80.27 L216.19 79.71 L216.05 79.14 L215.91 78.55 L215.77 77.95 L215.64 77.34 L215.5 76.72 L215.36 76.08 L215.23 75.42 L215.09 74.75 L214.95 74.07 L214.82 73.37 L214.68 72.66 L214.54 71.93 L214.4 71.18 L214.26 70.42 L214.12 69.64 L213.98 68.84 L213.84 68.02 L213.7 67.16 L213.56 66.27 L213.41 65.32 L213.27 64.32 L213.13 63.26 L213 62.12 L212.87 60.9 L212.74 59.6 L212.62 58.19 L212.5 56.69 L212.39 55.07 L212.28 53.32 L212.17 51.44 L212.07 49.42 L211.97 47.24 L211.88 44.87 L211.79 42.25 L211.71 39.35 L211.65 36.1 L211.59 32.46 L211.54 28.38 L211.5 23.8 L211.47 18.68 L211.45 16.11Z" fill="#00FFFF" stroke="#00FFFF" stroke-width="3.0" stroke-linejoin="round"/>
<path d="M188 90.6C189.12 91.02 190.2 91.32 194.7 93.1C199.2 94.88 207.45 98.72 215 101.3C222.55 103.88 232.67 106.55 240 108.6C247.33 110.65 253.17 112 259 113.6C264.83 115.2 269.75 116.7 275 118.2C280.25 119.7 287.92 121.87 290.5 122.6L290.5 125.4C287.92 124.9 280.25 123.53 275 122.4C269.75 121.27 264.83 120.07 259 118.6C253.17 117.13 247.33 115.57 240 113.6C232.67 111.63 222.55 108.98 215 106.8C207.45 104.62 199.2 101.9 194.7 100.5C190.2 99.1 189.12 98.75 188 98.4Z" fill="#FFA500" />
<circle cx="290.6" cy="124" r="1.5" fill="#FFA500"/>
<line x1="214.08" y1="16.4" x2="214.08" y2="132.9" stroke="#9a9a9a" stroke-width="1.0" opacity="0.75"/>
<path d="M221.05 11.74C221.14 13.07 221.38 17.15 221.55 19.73C221.72 22.3 221.89 24.78 222.07 27.19C222.25 29.59 222.44 31.91 222.64 34.15C222.83 36.4 223.03 38.56 223.24 40.66C223.45 42.76 223.66 44.78 223.89 46.74C224.11 48.7 224.34 50.59 224.58 52.42C224.82 54.25 225.06 56.02 225.32 57.73C225.57 59.44 225.84 61.08 226.11 62.68C226.38 64.28 226.67 65.82 226.96 67.31C227.25 68.8 227.55 70.24 227.87 71.63C228.18 73.03 228.51 74.37 228.84 75.67C229.18 76.97 229.52 78.23 229.88 79.44C230.24 80.66 230.61 81.83 231 82.97C231.38 84.1 231.78 85.2 232.19 86.26C232.6 87.32 233.03 88.34 233.47 89.33C233.91 90.32 234.36 91.28 234.84 92.2C235.31 93.13 235.8 94.02 236.3 94.89C236.81 95.75 237.33 96.58 237.87 97.39C238.41 98.2 238.97 98.98 239.55 99.73C240.13 100.49 240.72 101.21 241.34 101.92C241.96 102.62 242.6 103.3 243.27 103.96C243.93 104.62 244.62 105.25 245.33 105.87C246.04 106.48 246.77 107.08 247.53 107.65C248.29 108.22 249.08 108.78 249.89 109.31C250.71 109.85 251.55 110.37 252.42 110.87C253.29 111.37 254.19 111.85 255.12 112.32C256.06 112.79 257.02 113.24 258.02 113.68C259.02 114.11 260.05 114.54 261.12 114.94C262.19 115.35 263.29 115.75 264.44 116.13C265.58 116.51 266.77 116.88 267.99 117.23C269.22 117.59 270.48 117.93 271.8 118.27C273.11 118.6 274.46 118.92 275.87 119.23C277.27 119.54 278.72 119.84 280.23 120.13C281.73 120.42 283.29 120.7 284.9 120.97C286.51 121.24 288.17 121.51 289.89 121.76C291.62 122.01 293.4 122.26 295.24 122.49C297.09 122.73 298.99 122.96 300.97 123.18C302.95 123.4 304.99 123.61 307.1 123.82C309.22 124.03 311.4 124.23 313.66 124.42C315.93 124.61 319.52 124.88 320.69 124.98" fill="none" stroke="#000" stroke-width="1.1500000000000001"/>
<path d="M222.02 11.74C222.11 13.01 222.37 16.9 222.56 19.36C222.74 21.82 222.93 24.19 223.12 26.5C223.32 28.8 223.52 31.03 223.73 33.19C223.94 35.34 224.15 37.43 224.38 39.45C224.6 41.48 224.83 43.43 225.07 45.33C225.31 47.23 225.55 49.06 225.81 50.83C226.06 52.61 226.32 54.33 226.59 55.99C226.86 57.66 227.14 59.27 227.43 60.83C227.72 62.39 228.02 63.9 228.33 65.36C228.63 66.82 228.95 68.24 229.28 69.61C229.61 70.98 229.95 72.3 230.3 73.59C230.65 74.87 231.01 76.11 231.39 77.31C231.76 78.52 232.15 79.68 232.55 80.81C232.95 81.94 233.36 83.03 233.79 84.08C234.22 85.14 234.66 86.16 235.11 87.15C235.57 88.14 236.04 89.1 236.52 90.03C237.01 90.96 237.51 91.85 238.03 92.72C238.55 93.59 239.08 94.43 239.63 95.25C240.19 96.07 240.76 96.85 241.35 97.62C241.94 98.38 242.55 99.12 243.18 99.84C243.81 100.55 244.46 101.24 245.13 101.91C245.8 102.59 246.49 103.23 247.21 103.86C247.93 104.49 248.67 105.1 249.43 105.69C250.2 106.28 250.99 106.85 251.81 107.4C252.62 107.95 253.46 108.48 254.34 109C255.21 109.52 256.11 110.02 257.04 110.5C257.97 110.99 258.93 111.46 259.92 111.91C260.91 112.37 261.93 112.81 262.99 113.23C264.05 113.66 265.14 114.07 266.27 114.47C267.4 114.87 268.57 115.25 269.78 115.63C270.98 116 272.22 116.36 273.51 116.71C274.8 117.06 276.13 117.4 277.5 117.73C278.87 118.06 280.29 118.38 281.75 118.68C283.22 118.99 284.73 119.29 286.29 119.58C287.86 119.87 289.47 120.15 291.14 120.42C292.81 120.69 294.53 120.95 296.31 121.2C298.09 121.45 299.92 121.7 301.82 121.94C303.72 122.17 305.68 122.4 307.71 122.63C309.74 122.85 311.83 123.06 313.99 123.27C316.15 123.48 319.57 123.78 320.69 123.88" fill="none" stroke="#000" stroke-width="1.1500000000000001"/>
</g>
<rect x="194.7" y="16.4" width="116.3" height="116.5" fill="none" stroke="#000" stroke-width="1.1"/>
<line x1="194.7" y1="132.9" x2="200.1" y2="132.9" stroke="#000" stroke-width="1.1"/>
<line x1="194.7" y1="121.25" x2="200.1" y2="121.25" stroke="#000" stroke-width="1.1"/>
<line x1="194.7" y1="109.6" x2="200.1" y2="109.6" stroke="#000" stroke-width="1.1"/>
<line x1="194.7" y1="97.95" x2="200.1" y2="97.95" stroke="#000" stroke-width="1.1"/>
<line x1="194.7" y1="86.3" x2="200.1" y2="86.3" stroke="#000" stroke-width="1.1"/>
<line x1="194.7" y1="74.65" x2="200.1" y2="74.65" stroke="#000" stroke-width="1.1"/>
<line x1="194.7" y1="63" x2="200.1" y2="63" stroke="#000" stroke-width="1.1"/>
<line x1="194.7" y1="51.35" x2="200.1" y2="51.35" stroke="#000" stroke-width="1.1"/>
<line x1="194.7" y1="39.7" x2="200.1" y2="39.7" stroke="#000" stroke-width="1.1"/>
<line x1="194.7" y1="28.05" x2="200.1" y2="28.05" stroke="#000" stroke-width="1.1"/>
<line x1="194.7" y1="16.4" x2="200.1" y2="16.4" stroke="#000" stroke-width="1.1"/>
<line x1="233.47" y1="132.9" x2="233.47" y2="127.5" stroke="#000" stroke-width="1.1"/>
<line x1="252.85" y1="132.9" x2="252.85" y2="127.5" stroke="#000" stroke-width="1.1"/>
<line x1="272.23" y1="132.9" x2="272.23" y2="127.5" stroke="#000" stroke-width="1.1"/>
<line x1="291.62" y1="132.9" x2="291.62" y2="127.5" stroke="#000" stroke-width="1.1"/>
<line x1="214.08" y1="132.9" x2="214.08" y2="127.5" stroke="#888" stroke-width="1.1"/>
<text transform="translate(183.32 138.3) scale(1.0600 1)" font-size="15" fill="#000" >0</text>
<text transform="translate(174.84 115) scale(1.0600 1)" font-size="15" fill="#000" >10</text>
<text transform="translate(174.84 91.7) scale(1.0600 1)" font-size="15" fill="#000" >20</text>
<text transform="translate(174.84 68.4) scale(1.0600 1)" font-size="15" fill="#000" >30</text>
<text transform="translate(174.84 45.1) scale(1.0600 1)" font-size="15" fill="#000" >40</text>
<text transform="translate(209.31 146.8) scale(1.0600 1)" font-size="15" fill="#000" >0</text>
<text transform="translate(241.72 146.8) scale(1.0600 1)" font-size="15" fill="#000" >0.2</text>
<text transform="translate(279.96 146.8) scale(1.0600 1)" font-size="15" fill="#000" >0.4</text>
<text transform="translate(86.1 12.8) scale(1.1049 1)" font-size="15.9" fill="#000" >Type-II, <tspan font-style="italic">m</tspan><tspan font-style="italic" font-size="11" dy="2.6">A</tspan><tspan dy="-2.6"> =800 [GeV]</tspan></text>
<text transform="translate(438.1 12.8) scale(1.1053 1)" font-size="15.9" fill="#000" >Type-II, <tspan font-style="italic">m</tspan><tspan font-style="italic" font-size="11" dy="2.6">A</tspan><tspan dy="-2.6"> =1500 [GeV]</tspan></text>
<text transform="translate(137.43 319.2) scale(1.0700 1)" font-size="16" fill="#000" >cos(<tspan font-style="italic">β</tspan> − <tspan font-style="italic">α</tspan>)</text>
<text transform="translate(494.48 319.2) scale(1.0700 1)" font-size="16" fill="#000" >cos(<tspan font-style="italic">β</tspan> − <tspan font-style="italic">α</tspan>)</text>
<text transform="translate(12.2 168.7) rotate(-90) scale(1.0581 1)" font-size="16" >tan<tspan font-style="italic">β</tspan></text>
<text transform="translate(369.5 168.7) rotate(-90) scale(1.0581 1)" font-size="16" >tan<tspan font-style="italic">β</tspan></text>
<rect x="588.6" y="16.4" width="80.7" height="103.1" fill="#fff" stroke="#000" stroke-width="1.1"/>
<text transform="translate(601.9 30.6) scale(1.0914 1)" font-size="13.6" fill="#000" >λv<tspan font-size="9.6" dy="-5.0">2</tspan><tspan dy="5.0">[GeV</tspan><tspan font-size="9.6" dy="-5.0">2</tspan><tspan dy="5.0">]</tspan></text>
<text transform="translate(602.3 44.77) scale(1.2571 1)" font-size="13.6" fill="#2F7FC8" >−</text>
<text transform="translate(612.44 44.77) scale(1.0556 1)" font-size="13.6" fill="#2F7FC8" >100<tspan font-size="9.6" dy="-5.0">2</tspan></text>
<text transform="translate(601.9 58.94) scale(1.0571 1)" font-size="13.6" fill="#EE7A9E" >0</text>
<text transform="translate(601.12 73.11) scale(1.0842 1)" font-size="13.6" fill="#FF00FF" >50<tspan font-size="9.6" dy="-5.0">2</tspan></text>
<text transform="translate(601.13 87.28) scale(1.0667 1)" font-size="13.6" fill="#48CE8E" >200<tspan font-size="9.6" dy="-5.0">2</tspan></text>
<text transform="translate(601.9 101.45) scale(1.0393 1)" font-size="13.6" fill="#00FFFF" >400<tspan font-size="9.6" dy="-5.0">2</tspan></text>
<text transform="translate(601.13 115.62) scale(1.0667 1)" font-size="13.6" fill="#FFA500" >600<tspan font-size="9.6" dy="-5.0">2</tspan></text></svg>
</body></html>
